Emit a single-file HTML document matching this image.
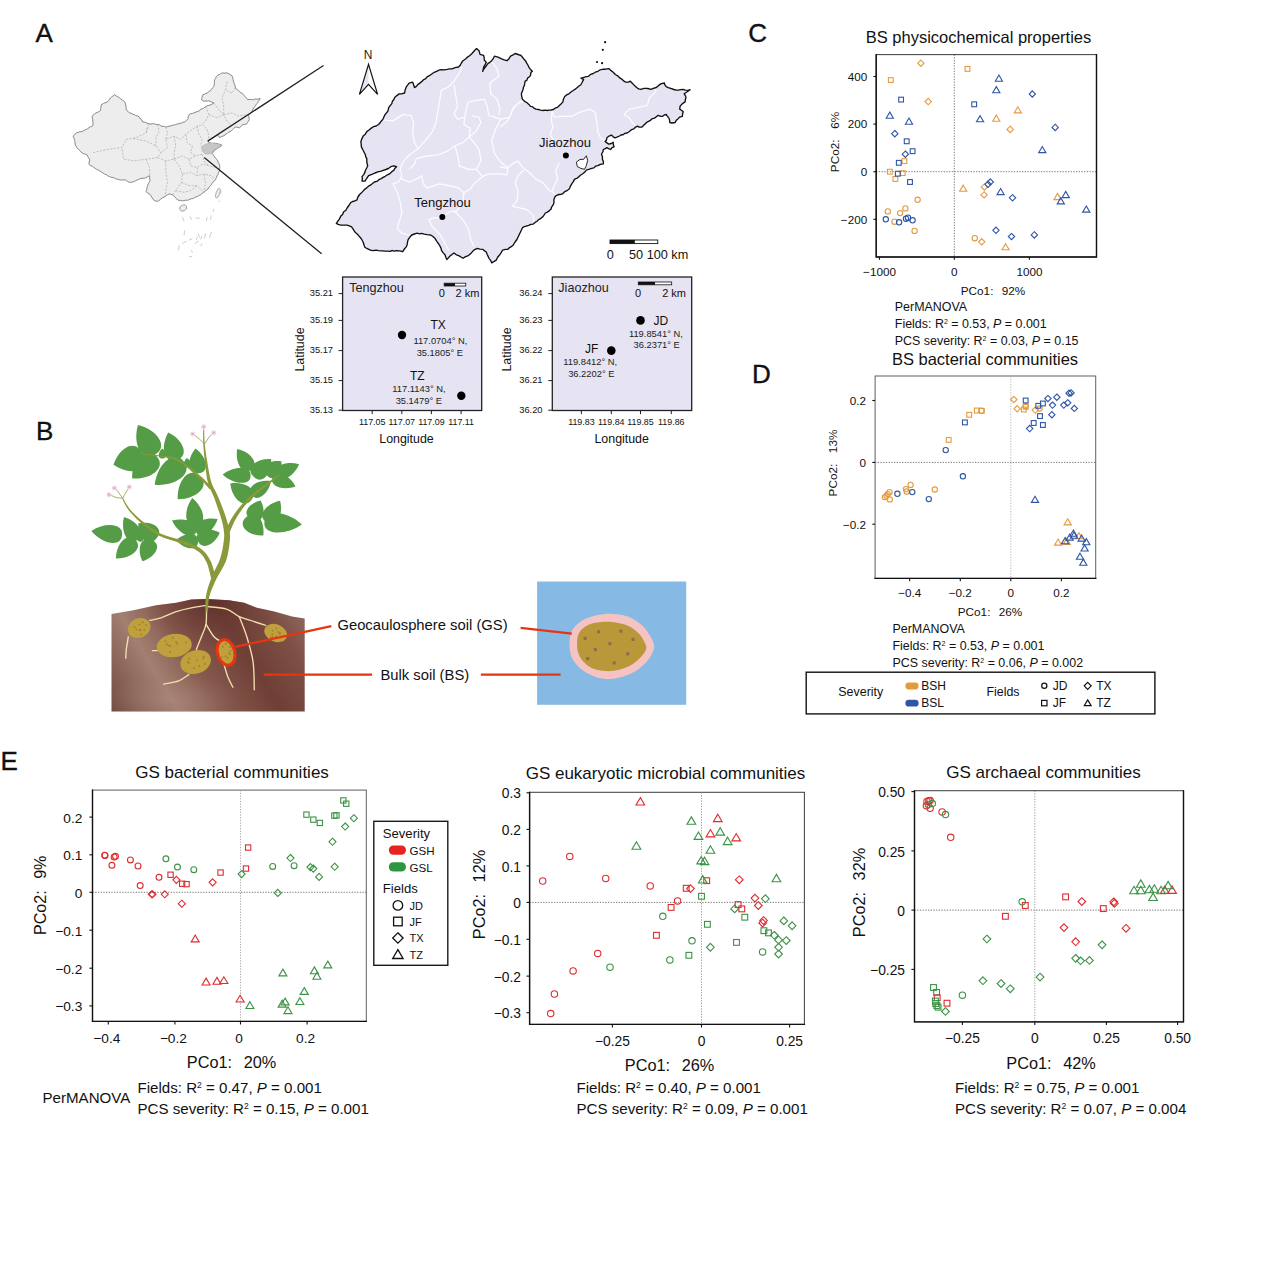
<!DOCTYPE html>
<html><head><meta charset="utf-8"><title>Figure</title>
<style>
html,body{margin:0;padding:0;background:#fff}
svg{display:block}
svg text{font-family:"Liberation Sans",sans-serif}
</style></head><body>
<svg width="1270" height="1280" viewBox="0 0 1270 1280">
<rect width="1270" height="1280" fill="#fff"/>
<text x="35.6" y="41.9" font-size="26" text-anchor="start" fill="#111" xml:space="preserve" stroke="#111" stroke-width="0.35">A</text>
<text x="36.1" y="440.4" font-size="26" text-anchor="start" fill="#111" xml:space="preserve" stroke="#111" stroke-width="0.35">B</text>
<text x="748.2" y="41.5" font-size="26" text-anchor="start" fill="#111" xml:space="preserve" stroke="#111" stroke-width="0.35">C</text>
<text x="752.0" y="383.3" font-size="26" text-anchor="start" fill="#111" xml:space="preserve" stroke="#111" stroke-width="0.35">D</text>
<text x="0.4" y="769.6" font-size="26" text-anchor="start" fill="#111" xml:space="preserve" stroke="#111" stroke-width="0.35">E</text>
<text x="978.5" y="43.0" font-size="16.5" text-anchor="middle" fill="#111" xml:space="preserve">BS physicochemical properties</text>
<rect x="876.2" y="54.6" width="220.3" height="202.4" fill="#fff" stroke="#444" stroke-width="1.05"/>
<path d="M954.3 54.6V257.0" stroke="#555" stroke-width="0.8" stroke-dasharray="1.3 1.4" fill="none"/>
<path d="M876.2 171.7H1096.5" stroke="#555" stroke-width="0.8" stroke-dasharray="1.3 1.4" fill="none"/>
<path d="M876.2 54.1V257.7M875.5 257.0H1097.2M1096.5 54.1V257.7" stroke="#111" stroke-width="1.4" fill="none"/>
<path d="M879.5 257.0v2.8" stroke="#111" stroke-width="1.1"/>
<text x="879.5" y="275.9" font-size="11.7" text-anchor="middle" fill="#111" xml:space="preserve">−1000</text>
<path d="M954.3 257.0v2.8" stroke="#111" stroke-width="1.1"/>
<text x="954.3" y="275.9" font-size="11.7" text-anchor="middle" fill="#111" xml:space="preserve">0</text>
<path d="M1029.4 257.0v2.8" stroke="#111" stroke-width="1.1"/>
<text x="1029.4" y="275.9" font-size="11.7" text-anchor="middle" fill="#111" xml:space="preserve">1000</text>
<path d="M876.2 76.5h-2.8" stroke="#111" stroke-width="1.1"/>
<text x="867.2" y="80.8" font-size="11.7" text-anchor="end" fill="#111" xml:space="preserve">400</text>
<path d="M876.2 124.1h-2.8" stroke="#111" stroke-width="1.1"/>
<text x="867.2" y="128.4" font-size="11.7" text-anchor="end" fill="#111" xml:space="preserve">200</text>
<path d="M876.2 171.7h-2.8" stroke="#111" stroke-width="1.1"/>
<text x="867.2" y="176.0" font-size="11.7" text-anchor="end" fill="#111" xml:space="preserve">0</text>
<path d="M876.2 219.3h-2.8" stroke="#111" stroke-width="1.1"/>
<text x="867.2" y="223.6" font-size="11.7" text-anchor="end" fill="#111" xml:space="preserve">−200</text>
<path d="M920.9 60.1L924.1 63.2L920.9 66.4L917.7 63.2Z" fill="none" stroke="#e59a3e" stroke-width="1.1"/>
<rect x="965.1" y="66.5" width="4.8" height="4.8" fill="none" stroke="#e59a3e" stroke-width="1.1"/>
<rect x="888.4" y="77.7" width="4.8" height="4.8" fill="none" stroke="#e59a3e" stroke-width="1.1"/>
<path d="M928.2 98.4L931.4 101.6L928.2 104.8L925.0 101.6Z" fill="none" stroke="#e59a3e" stroke-width="1.1"/>
<path d="M1017.8 106.8L1021.4 112.9L1014.2 112.9Z" fill="none" stroke="#e59a3e" stroke-width="1.1" stroke-linejoin="miter"/>
<path d="M996.3 115.0L999.9 121.2L992.7 121.2Z" fill="none" stroke="#e59a3e" stroke-width="1.1" stroke-linejoin="miter"/>
<path d="M1010.2 126.2L1013.4 129.4L1010.2 132.6L1007.0 129.4Z" fill="none" stroke="#e59a3e" stroke-width="1.1"/>
<rect x="902.0" y="158.7" width="4.8" height="4.8" fill="none" stroke="#e59a3e" stroke-width="1.1"/>
<rect x="887.4" y="169.3" width="4.8" height="4.8" fill="none" stroke="#e59a3e" stroke-width="1.1"/>
<rect x="900.3" y="170.7" width="4.8" height="4.8" fill="none" stroke="#e59a3e" stroke-width="1.1"/>
<rect x="893.0" y="176.6" width="4.8" height="4.8" fill="none" stroke="#e59a3e" stroke-width="1.1"/>
<path d="M963.2 185.2L966.8 191.3L959.6 191.3Z" fill="none" stroke="#e59a3e" stroke-width="1.1" stroke-linejoin="miter"/>
<path d="M984.4 183.7L987.6 186.9L984.4 190.1L981.2 186.9Z" fill="none" stroke="#e59a3e" stroke-width="1.1"/>
<path d="M984.1 191.7L987.2 194.9L984.1 198.0L980.9 194.9Z" fill="none" stroke="#e59a3e" stroke-width="1.1"/>
<path d="M1057.5 193.4L1061.1 199.6L1053.9 199.6Z" fill="none" stroke="#e59a3e" stroke-width="1.1" stroke-linejoin="miter"/>
<circle cx="917.6" cy="199.8" r="2.65" fill="none" stroke="#e59a3e" stroke-width="1.1"/>
<circle cx="905.4" cy="208.4" r="2.65" fill="none" stroke="#e59a3e" stroke-width="1.1"/>
<circle cx="887.8" cy="211.4" r="2.65" fill="none" stroke="#e59a3e" stroke-width="1.1"/>
<circle cx="900.1" cy="213.1" r="2.65" fill="none" stroke="#e59a3e" stroke-width="1.1"/>
<circle cx="894.4" cy="221.7" r="2.65" fill="none" stroke="#e59a3e" stroke-width="1.1"/>
<circle cx="914.6" cy="230.9" r="2.65" fill="none" stroke="#e59a3e" stroke-width="1.1"/>
<circle cx="974.8" cy="238.2" r="2.65" fill="none" stroke="#e59a3e" stroke-width="1.1"/>
<path d="M981.7 238.6L984.9 241.8L981.7 245.0L978.6 241.8Z" fill="none" stroke="#e59a3e" stroke-width="1.1"/>
<path d="M1005.6 243.7L1009.2 249.8L1002.0 249.8Z" fill="none" stroke="#e59a3e" stroke-width="1.1" stroke-linejoin="miter"/>
<path d="M998.9 75.0L1002.5 81.2L995.3 81.2Z" fill="none" stroke="#2f55a4" stroke-width="1.1" stroke-linejoin="miter"/>
<path d="M996.3 86.6L999.9 92.7L992.7 92.7Z" fill="none" stroke="#2f55a4" stroke-width="1.1" stroke-linejoin="miter"/>
<path d="M1032.3 90.8L1035.5 94.0L1032.3 97.2L1029.2 94.0Z" fill="none" stroke="#2f55a4" stroke-width="1.1"/>
<rect x="898.7" y="97.2" width="4.8" height="4.8" fill="none" stroke="#2f55a4" stroke-width="1.1"/>
<rect x="971.8" y="101.9" width="4.8" height="4.8" fill="none" stroke="#2f55a4" stroke-width="1.1"/>
<path d="M889.8 112.1L893.4 118.2L886.2 118.2Z" fill="none" stroke="#2f55a4" stroke-width="1.1" stroke-linejoin="miter"/>
<path d="M980.1 115.7L983.7 121.8L976.5 121.8Z" fill="none" stroke="#2f55a4" stroke-width="1.1" stroke-linejoin="miter"/>
<path d="M909.0 118.0L912.6 124.2L905.4 124.2Z" fill="none" stroke="#2f55a4" stroke-width="1.1" stroke-linejoin="miter"/>
<path d="M1055.2 124.2L1058.3 127.4L1055.2 130.6L1052.0 127.4Z" fill="none" stroke="#2f55a4" stroke-width="1.1"/>
<path d="M894.8 130.5L898.0 133.7L894.8 136.9L891.6 133.7Z" fill="none" stroke="#2f55a4" stroke-width="1.1"/>
<rect x="904.3" y="138.9" width="4.8" height="4.8" fill="none" stroke="#2f55a4" stroke-width="1.1"/>
<path d="M1042.3 146.5L1045.9 152.6L1038.7 152.6Z" fill="none" stroke="#2f55a4" stroke-width="1.1" stroke-linejoin="miter"/>
<rect x="910.2" y="148.8" width="4.8" height="4.8" fill="none" stroke="#2f55a4" stroke-width="1.1"/>
<path d="M905.4 151.0L908.5 154.2L905.4 157.4L902.2 154.2Z" fill="none" stroke="#2f55a4" stroke-width="1.1"/>
<rect x="896.4" y="160.4" width="4.8" height="4.8" fill="none" stroke="#2f55a4" stroke-width="1.1"/>
<rect x="895.4" y="171.3" width="4.8" height="4.8" fill="none" stroke="#2f55a4" stroke-width="1.1"/>
<rect x="907.6" y="179.6" width="4.8" height="4.8" fill="none" stroke="#2f55a4" stroke-width="1.1"/>
<path d="M990.3 178.8L993.5 182.0L990.3 185.1L987.2 182.0Z" fill="none" stroke="#2f55a4" stroke-width="1.1"/>
<path d="M988.0 181.1L991.2 184.3L988.0 187.5L984.9 184.3Z" fill="none" stroke="#2f55a4" stroke-width="1.1"/>
<path d="M1000.6 188.5L1004.2 194.6L997.0 194.6Z" fill="none" stroke="#2f55a4" stroke-width="1.1" stroke-linejoin="miter"/>
<path d="M1012.5 194.7L1015.7 197.8L1012.5 201.0L1009.3 197.8Z" fill="none" stroke="#2f55a4" stroke-width="1.1"/>
<path d="M1065.7 191.4L1069.4 197.6L1062.1 197.6Z" fill="none" stroke="#2f55a4" stroke-width="1.1" stroke-linejoin="miter"/>
<path d="M1060.8 197.7L1064.4 203.9L1057.2 203.9Z" fill="none" stroke="#2f55a4" stroke-width="1.1" stroke-linejoin="miter"/>
<path d="M1086.3 206.0L1089.9 212.1L1082.6 212.1Z" fill="none" stroke="#2f55a4" stroke-width="1.1" stroke-linejoin="miter"/>
<circle cx="885.8" cy="219.3" r="2.65" fill="none" stroke="#2f55a4" stroke-width="1.1"/>
<circle cx="899.1" cy="222.3" r="2.65" fill="none" stroke="#2f55a4" stroke-width="1.1"/>
<circle cx="906.0" cy="218.7" r="2.65" fill="none" stroke="#2f55a4" stroke-width="1.1"/>
<circle cx="908.0" cy="217.7" r="2.65" fill="none" stroke="#2f55a4" stroke-width="1.1"/>
<circle cx="912.6" cy="220.3" r="2.65" fill="none" stroke="#2f55a4" stroke-width="1.1"/>
<path d="M996.0 227.1L999.1 230.3L996.0 233.4L992.8 230.3Z" fill="none" stroke="#2f55a4" stroke-width="1.1"/>
<path d="M1011.5 233.4L1014.7 236.5L1011.5 239.7L1008.3 236.5Z" fill="none" stroke="#2f55a4" stroke-width="1.1"/>
<path d="M1034.3 231.7L1037.5 234.9L1034.3 238.1L1031.2 234.9Z" fill="none" stroke="#2f55a4" stroke-width="1.1"/>
<text x="993.0" y="294.5" font-size="11.75" text-anchor="middle" fill="#111" xml:space="preserve">PCo1:<tspan dx="8.3">92%</tspan></text>
<text x="839.0" y="142.0" font-size="11.75" text-anchor="middle" fill="#111" xml:space="preserve" transform="rotate(-90 839 142)">PCo2:<tspan dx="10.6">6%</tspan></text>
<text x="894.8" y="311.0" font-size="12.45" text-anchor="start" fill="#111" xml:space="preserve">PerMANOVA</text>
<text x="894.8" y="327.5" font-size="12.45" text-anchor="start" fill="#111" xml:space="preserve">Fields: R<tspan font-size="7" dy="-4">2</tspan><tspan dy="4"> = 0.53, </tspan><tspan font-style="italic">P</tspan> = 0.001</text>
<text x="894.8" y="345.0" font-size="12.45" text-anchor="start" fill="#111" xml:space="preserve">PCS severity: R<tspan font-size="7" dy="-4">2</tspan><tspan dy="4"> = 0.03, </tspan><tspan font-style="italic">P</tspan> = 0.15</text>
<text x="985.0" y="364.5" font-size="16.5" text-anchor="middle" fill="#111" xml:space="preserve">BS bacterial communities</text>
<rect x="875.1" y="376" width="220.6" height="202.4" fill="#fff" stroke="#666" stroke-width="1.05"/>
<path d="M1010.8 376V578.4" stroke="#aaa" stroke-width="0.8" stroke-dasharray="1.3 1.4" fill="none"/>
<path d="M875.1 462.4H1095.7" stroke="#555" stroke-width="0.8" stroke-dasharray="1.3 1.4" fill="none"/>
<path d="M874.4 578.4H1096.4" stroke="#111" stroke-width="1.4" fill="none"/>
<path d="M909.7 578.4v2.8" stroke="#111" stroke-width="1.1"/>
<text x="909.7" y="597.3" font-size="11.7" text-anchor="middle" fill="#111" xml:space="preserve">−0.4</text>
<path d="M960.3 578.4v2.8" stroke="#111" stroke-width="1.1"/>
<text x="960.3" y="597.3" font-size="11.7" text-anchor="middle" fill="#111" xml:space="preserve">−0.2</text>
<path d="M1010.8 578.4v2.8" stroke="#111" stroke-width="1.1"/>
<text x="1010.8" y="597.3" font-size="11.7" text-anchor="middle" fill="#111" xml:space="preserve">0</text>
<path d="M1061.4 578.4v2.8" stroke="#111" stroke-width="1.1"/>
<text x="1061.4" y="597.3" font-size="11.7" text-anchor="middle" fill="#111" xml:space="preserve">0.2</text>
<path d="M875.1 400.5h-2.8" stroke="#111" stroke-width="1.1"/>
<text x="866.1" y="404.8" font-size="11.7" text-anchor="end" fill="#111" xml:space="preserve">0.2</text>
<path d="M875.1 462.4h-2.8" stroke="#111" stroke-width="1.1"/>
<text x="866.1" y="466.7" font-size="11.7" text-anchor="end" fill="#111" xml:space="preserve">0</text>
<path d="M875.1 524.2h-2.8" stroke="#111" stroke-width="1.1"/>
<text x="866.1" y="528.5" font-size="11.7" text-anchor="end" fill="#111" xml:space="preserve">−0.2</text>
<path d="M1013.8 396.3L1017.0 399.5L1013.8 402.7L1010.6 399.5Z" fill="none" stroke="#e59a3e" stroke-width="1.1"/>
<path d="M1017.1 405.6L1020.3 408.8L1017.1 412.0L1014.0 408.8Z" fill="none" stroke="#e59a3e" stroke-width="1.1"/>
<rect x="1021.4" y="407.1" width="4.8" height="4.8" fill="none" stroke="#e59a3e" stroke-width="1.1"/>
<rect x="1023.3" y="404.4" width="4.8" height="4.8" fill="none" stroke="#e59a3e" stroke-width="1.1"/>
<circle cx="1025.7" cy="406.1" r="2.65" fill="none" stroke="#e59a3e" stroke-width="1.1"/>
<path d="M1035.3 406.9L1038.5 410.1L1035.3 413.3L1032.1 410.1Z" fill="none" stroke="#e59a3e" stroke-width="1.1"/>
<circle cx="1039.6" cy="408.5" r="2.65" fill="none" stroke="#e59a3e" stroke-width="1.1"/>
<rect x="966.8" y="412.4" width="4.8" height="4.8" fill="none" stroke="#e59a3e" stroke-width="1.1"/>
<rect x="974.4" y="408.1" width="4.8" height="4.8" fill="none" stroke="#e59a3e" stroke-width="1.1"/>
<circle cx="981.4" cy="410.8" r="2.65" fill="none" stroke="#e59a3e" stroke-width="1.1"/>
<rect x="979.4" y="408.4" width="4.8" height="4.8" fill="none" stroke="#e59a3e" stroke-width="1.1"/>
<rect x="946.3" y="437.5" width="4.8" height="4.8" fill="none" stroke="#e59a3e" stroke-width="1.1"/>
<circle cx="910.6" cy="484.9" r="2.65" fill="none" stroke="#e59a3e" stroke-width="1.1"/>
<circle cx="906.0" cy="489.1" r="2.65" fill="none" stroke="#e59a3e" stroke-width="1.1"/>
<circle cx="906.7" cy="491.5" r="2.65" fill="none" stroke="#e59a3e" stroke-width="1.1"/>
<circle cx="889.5" cy="492.1" r="2.65" fill="none" stroke="#e59a3e" stroke-width="1.1"/>
<circle cx="887.8" cy="494.1" r="2.65" fill="none" stroke="#e59a3e" stroke-width="1.1"/>
<circle cx="886.5" cy="495.8" r="2.65" fill="none" stroke="#e59a3e" stroke-width="1.1"/>
<circle cx="884.9" cy="497.1" r="2.65" fill="none" stroke="#e59a3e" stroke-width="1.1"/>
<circle cx="889.8" cy="499.4" r="2.65" fill="none" stroke="#e59a3e" stroke-width="1.1"/>
<circle cx="934.8" cy="489.5" r="2.65" fill="none" stroke="#e59a3e" stroke-width="1.1"/>
<path d="M1067.7 518.8L1071.3 524.9L1064.1 524.9Z" fill="none" stroke="#e59a3e" stroke-width="1.1" stroke-linejoin="miter"/>
<path d="M1058.1 539.0L1061.7 545.1L1054.5 545.1Z" fill="none" stroke="#e59a3e" stroke-width="1.1" stroke-linejoin="miter"/>
<path d="M1066.7 538.3L1070.3 544.4L1063.1 544.4Z" fill="none" stroke="#e59a3e" stroke-width="1.1" stroke-linejoin="miter"/>
<path d="M1079.0 532.7L1082.6 538.8L1075.4 538.8Z" fill="none" stroke="#e59a3e" stroke-width="1.1" stroke-linejoin="miter"/>
<rect x="1023.3" y="398.1" width="4.8" height="4.8" fill="none" stroke="#2f55a4" stroke-width="1.1"/>
<rect x="1035.9" y="403.4" width="4.8" height="4.8" fill="none" stroke="#2f55a4" stroke-width="1.1"/>
<rect x="1040.5" y="401.1" width="4.8" height="4.8" fill="none" stroke="#2f55a4" stroke-width="1.1"/>
<path d="M1047.9 395.4L1051.1 398.5L1047.9 401.7L1044.7 398.5Z" fill="none" stroke="#2f55a4" stroke-width="1.1"/>
<path d="M1056.8 394.0L1060.0 397.2L1056.8 400.4L1053.6 397.2Z" fill="none" stroke="#2f55a4" stroke-width="1.1"/>
<path d="M1052.5 402.0L1055.7 405.1L1052.5 408.3L1049.3 405.1Z" fill="none" stroke="#2f55a4" stroke-width="1.1"/>
<path d="M1063.8 402.0L1066.9 405.1L1063.8 408.3L1060.6 405.1Z" fill="none" stroke="#2f55a4" stroke-width="1.1"/>
<path d="M1067.7 399.7L1070.9 402.8L1067.7 406.0L1064.6 402.8Z" fill="none" stroke="#2f55a4" stroke-width="1.1"/>
<path d="M1069.1 390.1L1072.2 393.2L1069.1 396.4L1065.9 393.2Z" fill="none" stroke="#2f55a4" stroke-width="1.1"/>
<path d="M1071.0 389.7L1074.2 392.9L1071.0 396.1L1067.9 392.9Z" fill="none" stroke="#2f55a4" stroke-width="1.1"/>
<path d="M1074.3 405.3L1077.5 408.5L1074.3 411.6L1071.2 408.5Z" fill="none" stroke="#2f55a4" stroke-width="1.1"/>
<path d="M1051.9 411.6L1055.0 414.7L1051.9 417.9L1048.7 414.7Z" fill="none" stroke="#2f55a4" stroke-width="1.1"/>
<rect x="1037.6" y="413.7" width="4.8" height="4.8" fill="none" stroke="#2f55a4" stroke-width="1.1"/>
<rect x="1031.3" y="420.6" width="4.8" height="4.8" fill="none" stroke="#2f55a4" stroke-width="1.1"/>
<rect x="1040.5" y="422.6" width="4.8" height="4.8" fill="none" stroke="#2f55a4" stroke-width="1.1"/>
<path d="M1029.7 425.4L1032.9 428.6L1029.7 431.8L1026.5 428.6Z" fill="none" stroke="#2f55a4" stroke-width="1.1"/>
<rect x="962.5" y="420.0" width="4.8" height="4.8" fill="none" stroke="#2f55a4" stroke-width="1.1"/>
<circle cx="945.7" cy="450.1" r="2.65" fill="none" stroke="#2f55a4" stroke-width="1.1"/>
<circle cx="962.9" cy="476.3" r="2.65" fill="none" stroke="#2f55a4" stroke-width="1.1"/>
<circle cx="897.4" cy="493.8" r="2.65" fill="none" stroke="#2f55a4" stroke-width="1.1"/>
<circle cx="912.3" cy="492.1" r="2.65" fill="none" stroke="#2f55a4" stroke-width="1.1"/>
<circle cx="928.8" cy="499.1" r="2.65" fill="none" stroke="#2f55a4" stroke-width="1.1"/>
<path d="M1035.0 496.3L1038.6 502.4L1031.4 502.4Z" fill="none" stroke="#2f55a4" stroke-width="1.1" stroke-linejoin="miter"/>
<path d="M1065.1 537.6L1068.7 543.8L1061.5 543.8Z" fill="none" stroke="#2f55a4" stroke-width="1.1" stroke-linejoin="miter"/>
<path d="M1069.7 534.0L1073.3 540.1L1066.1 540.1Z" fill="none" stroke="#2f55a4" stroke-width="1.1" stroke-linejoin="miter"/>
<path d="M1073.4 530.0L1077.0 536.2L1069.8 536.2Z" fill="none" stroke="#2f55a4" stroke-width="1.1" stroke-linejoin="miter"/>
<path d="M1074.0 532.0L1077.6 538.2L1070.4 538.2Z" fill="none" stroke="#2f55a4" stroke-width="1.1" stroke-linejoin="miter"/>
<path d="M1081.6 535.0L1085.2 541.1L1078.0 541.1Z" fill="none" stroke="#2f55a4" stroke-width="1.1" stroke-linejoin="miter"/>
<path d="M1086.3 538.6L1089.9 544.8L1082.6 544.8Z" fill="none" stroke="#2f55a4" stroke-width="1.1" stroke-linejoin="miter"/>
<path d="M1084.6 544.9L1088.2 551.0L1081.0 551.0Z" fill="none" stroke="#2f55a4" stroke-width="1.1" stroke-linejoin="miter"/>
<path d="M1080.0 553.2L1083.6 559.3L1076.4 559.3Z" fill="none" stroke="#2f55a4" stroke-width="1.1" stroke-linejoin="miter"/>
<path d="M1083.3 559.1L1086.9 565.3L1079.7 565.3Z" fill="none" stroke="#2f55a4" stroke-width="1.1" stroke-linejoin="miter"/>
<text x="990.0" y="616.0" font-size="11.75" text-anchor="middle" fill="#111" xml:space="preserve">PCo1:<tspan dx="8.3">26%</tspan></text>
<text x="837.0" y="463.0" font-size="11.75" text-anchor="middle" fill="#111" xml:space="preserve" transform="rotate(-90 837 463)">PCo2:<tspan dx="10.6">13%</tspan></text>
<text x="892.5" y="633.0" font-size="12.45" text-anchor="start" fill="#111" xml:space="preserve">PerMANOVA</text>
<text x="892.5" y="650.0" font-size="12.45" text-anchor="start" fill="#111" xml:space="preserve">Fields: R<tspan font-size="7" dy="-4">2</tspan><tspan dy="4"> = 0.53, </tspan><tspan font-style="italic">P</tspan> = 0.001</text>
<text x="892.5" y="667.0" font-size="12.45" text-anchor="start" fill="#111" xml:space="preserve">PCS severity: R<tspan font-size="7" dy="-4">2</tspan><tspan dy="4"> = 0.06, </tspan><tspan font-style="italic">P</tspan> = 0.002</text>
<rect x="806.2" y="672.2" width="348.7" height="41.7" fill="#fff" stroke="#111" stroke-width="1.4"/>
<text x="838.3" y="696.3" font-size="12.45" text-anchor="start" fill="#111" xml:space="preserve">Severity</text>
<text x="986.5" y="696.3" font-size="12.4" text-anchor="start" fill="#111" xml:space="preserve">Fields</text>
<rect x="905.4" y="682.6" width="13.2" height="6.8" rx="3.4" fill="#e59a3e"/>
<rect x="905.4" y="699.8" width="13.2" height="6.8" rx="3.4" fill="#2f55a4"/>
<text x="921.3" y="689.8" font-size="12" text-anchor="start" fill="#111" xml:space="preserve">BSH</text>
<text x="921.3" y="706.8" font-size="12" text-anchor="start" fill="#111" xml:space="preserve">BSL</text>
<circle cx="1044.3" cy="685.8" r="2.60" fill="none" stroke="#111" stroke-width="1.2"/>
<text x="1052.8" y="689.8" font-size="12" text-anchor="start" fill="#111" xml:space="preserve">JD</text>
<rect x="1041.6" y="700.4" width="5.4" height="5.4" fill="none" stroke="#111" stroke-width="1.2"/>
<text x="1052.8" y="706.8" font-size="12" text-anchor="start" fill="#111" xml:space="preserve">JF</text>
<path d="M1087.7 682.3L1091.2 685.8L1087.7 689.3L1084.2 685.8Z" fill="none" stroke="#111" stroke-width="1.2"/>
<text x="1096.2" y="689.8" font-size="12" text-anchor="start" fill="#111" xml:space="preserve">TX</text>
<path d="M1087.7 699.9L1091.1 705.6L1084.3 705.6Z" fill="none" stroke="#111" stroke-width="1.2" stroke-linejoin="miter"/>
<text x="1096.2" y="706.8" font-size="12" text-anchor="start" fill="#111" xml:space="preserve">TZ</text>
<text x="232.0" y="777.5" font-size="17" text-anchor="middle" fill="#111" xml:space="preserve">GS bacterial communities</text>
<rect x="92.5" y="790.1" width="273.8" height="231.3" fill="#fff" stroke="#666" stroke-width="1.05"/>
<path d="M240.5 790.1V1021.4" stroke="#999" stroke-width="0.8" stroke-dasharray="1.3 1.4" fill="none"/>
<path d="M92.5 892.3H366.3" stroke="#555" stroke-width="0.8" stroke-dasharray="1.3 1.4" fill="none"/>
<path d="M92.5 789.6V1022.1M91.8 1021.4H367.0" stroke="#111" stroke-width="1.4" fill="none"/>
<path d="M108.3 1021.4v3.1" stroke="#111" stroke-width="1.1"/>
<text x="106.8" y="1042.7" font-size="13.7" text-anchor="middle" fill="#111" xml:space="preserve">−0.4</text>
<path d="M174.9 1021.4v3.1" stroke="#111" stroke-width="1.1"/>
<text x="173.4" y="1042.7" font-size="13.7" text-anchor="middle" fill="#111" xml:space="preserve">−0.2</text>
<path d="M240.5 1021.4v3.1" stroke="#111" stroke-width="1.1"/>
<text x="239.0" y="1042.7" font-size="13.7" text-anchor="middle" fill="#111" xml:space="preserve">0</text>
<path d="M307.1 1021.4v3.1" stroke="#111" stroke-width="1.1"/>
<text x="305.6" y="1042.7" font-size="13.7" text-anchor="middle" fill="#111" xml:space="preserve">0.2</text>
<path d="M92.5 817.1h-3.1" stroke="#111" stroke-width="1.1"/>
<text x="82.3" y="822.5" font-size="13.7" text-anchor="end" fill="#111" xml:space="preserve">0.2</text>
<path d="M92.5 854.8h-3.1" stroke="#111" stroke-width="1.1"/>
<text x="82.3" y="860.2" font-size="13.7" text-anchor="end" fill="#111" xml:space="preserve">0.1</text>
<path d="M92.5 892.3h-3.1" stroke="#111" stroke-width="1.1"/>
<text x="82.3" y="897.7" font-size="13.7" text-anchor="end" fill="#111" xml:space="preserve">0</text>
<path d="M92.5 930.2h-3.1" stroke="#111" stroke-width="1.1"/>
<text x="82.3" y="935.6" font-size="13.7" text-anchor="end" fill="#111" xml:space="preserve">−0.1</text>
<path d="M92.5 968.2h-3.1" stroke="#111" stroke-width="1.1"/>
<text x="82.3" y="973.6" font-size="13.7" text-anchor="end" fill="#111" xml:space="preserve">−0.2</text>
<path d="M92.5 1005.9h-3.1" stroke="#111" stroke-width="1.1"/>
<text x="82.3" y="1011.3" font-size="13.7" text-anchor="end" fill="#111" xml:space="preserve">−0.3</text>
<circle cx="104.7" cy="855.2" r="2.95" fill="none" stroke="#de2b30" stroke-width="1.1"/>
<circle cx="105.0" cy="855.5" r="2.95" fill="none" stroke="#de2b30" stroke-width="1.1"/>
<circle cx="114.1" cy="857.0" r="2.95" fill="none" stroke="#de2b30" stroke-width="1.1"/>
<circle cx="115.5" cy="856.3" r="2.95" fill="none" stroke="#de2b30" stroke-width="1.1"/>
<circle cx="111.9" cy="865.3" r="2.95" fill="none" stroke="#de2b30" stroke-width="1.1"/>
<circle cx="130.4" cy="859.9" r="2.95" fill="none" stroke="#de2b30" stroke-width="1.1"/>
<circle cx="138.0" cy="866.0" r="2.95" fill="none" stroke="#de2b30" stroke-width="1.1"/>
<circle cx="159.0" cy="877.3" r="2.95" fill="none" stroke="#de2b30" stroke-width="1.1"/>
<circle cx="140.2" cy="885.6" r="2.95" fill="none" stroke="#de2b30" stroke-width="1.1"/>
<rect x="167.9" y="872.1" width="5.3" height="5.3" fill="none" stroke="#de2b30" stroke-width="1.1"/>
<rect x="179.5" y="881.1" width="5.3" height="5.3" fill="none" stroke="#de2b30" stroke-width="1.1"/>
<rect x="183.9" y="881.5" width="5.3" height="5.3" fill="none" stroke="#de2b30" stroke-width="1.1"/>
<path d="M176.4 876.3L179.9 879.8L176.4 883.4L172.9 879.8Z" fill="none" stroke="#de2b30" stroke-width="1.1"/>
<path d="M151.8 890.8L155.3 894.3L151.8 897.8L148.2 894.3Z" fill="none" stroke="#de2b30" stroke-width="1.1"/>
<path d="M152.5 890.8L156.0 894.3L152.5 897.8L148.9 894.3Z" fill="none" stroke="#de2b30" stroke-width="1.1"/>
<path d="M164.8 890.8L168.3 894.3L164.8 897.8L161.3 894.3Z" fill="none" stroke="#de2b30" stroke-width="1.1"/>
<path d="M181.8 900.2L185.4 903.7L181.8 907.3L178.3 903.7Z" fill="none" stroke="#de2b30" stroke-width="1.1"/>
<path d="M212.6 878.8L216.2 882.3L212.6 885.9L209.1 882.3Z" fill="none" stroke="#de2b30" stroke-width="1.1"/>
<rect x="217.9" y="869.9" width="5.3" height="5.3" fill="none" stroke="#de2b30" stroke-width="1.1"/>
<rect x="243.3" y="865.9" width="5.3" height="5.3" fill="none" stroke="#de2b30" stroke-width="1.1"/>
<rect x="245.5" y="844.9" width="5.3" height="5.3" fill="none" stroke="#de2b30" stroke-width="1.1"/>
<path d="M195.2 935.0L199.2 941.9L191.2 941.9Z" fill="none" stroke="#de2b30" stroke-width="1.1" stroke-linejoin="miter"/>
<path d="M206.1 978.1L210.1 985.0L202.1 985.0Z" fill="none" stroke="#de2b30" stroke-width="1.1" stroke-linejoin="miter"/>
<path d="M217.0 977.4L221.0 984.2L212.9 984.2Z" fill="none" stroke="#de2b30" stroke-width="1.1" stroke-linejoin="miter"/>
<path d="M223.8 976.7L227.9 983.5L219.8 983.5Z" fill="none" stroke="#de2b30" stroke-width="1.1" stroke-linejoin="miter"/>
<path d="M240.1 995.2L244.2 1002.0L236.1 1002.0Z" fill="none" stroke="#de2b30" stroke-width="1.1" stroke-linejoin="miter"/>
<circle cx="165.9" cy="858.8" r="2.95" fill="none" stroke="#3c9245" stroke-width="1.1"/>
<circle cx="177.5" cy="867.1" r="2.95" fill="none" stroke="#3c9245" stroke-width="1.1"/>
<circle cx="193.8" cy="869.7" r="2.95" fill="none" stroke="#3c9245" stroke-width="1.1"/>
<path d="M241.6 870.5L245.1 874.0L241.6 877.6L238.1 874.0Z" fill="none" stroke="#3c9245" stroke-width="1.1"/>
<circle cx="272.7" cy="866.4" r="2.95" fill="none" stroke="#3c9245" stroke-width="1.1"/>
<path d="M290.5 854.5L294.0 858.1L290.5 861.6L286.9 858.1Z" fill="none" stroke="#3c9245" stroke-width="1.1"/>
<circle cx="294.1" cy="865.7" r="2.95" fill="none" stroke="#3c9245" stroke-width="1.1"/>
<path d="M277.8 889.3L281.4 892.9L277.8 896.4L274.3 892.9Z" fill="none" stroke="#3c9245" stroke-width="1.1"/>
<path d="M310.4 863.6L313.9 867.1L310.4 870.7L306.9 867.1Z" fill="none" stroke="#3c9245" stroke-width="1.1"/>
<path d="M313.3 865.0L316.8 868.6L313.3 872.1L309.8 868.6Z" fill="none" stroke="#3c9245" stroke-width="1.1"/>
<path d="M319.1 873.4L322.6 876.9L319.1 880.5L315.6 876.9Z" fill="none" stroke="#3c9245" stroke-width="1.1"/>
<path d="M334.7 863.2L338.2 866.8L334.7 870.3L331.1 866.8Z" fill="none" stroke="#3c9245" stroke-width="1.1"/>
<path d="M332.5 838.2L336.0 841.8L332.5 845.3L329.0 841.8Z" fill="none" stroke="#3c9245" stroke-width="1.1"/>
<path d="M345.2 823.0L348.7 826.6L345.2 830.1L341.6 826.6Z" fill="none" stroke="#3c9245" stroke-width="1.1"/>
<path d="M353.9 814.7L357.4 818.2L353.9 821.8L350.3 818.2Z" fill="none" stroke="#3c9245" stroke-width="1.1"/>
<rect x="303.8" y="812.0" width="5.3" height="5.3" fill="none" stroke="#3c9245" stroke-width="1.1"/>
<rect x="310.7" y="817.0" width="5.3" height="5.3" fill="none" stroke="#3c9245" stroke-width="1.1"/>
<rect x="317.2" y="820.3" width="5.3" height="5.3" fill="none" stroke="#3c9245" stroke-width="1.1"/>
<rect x="331.7" y="813.0" width="5.3" height="5.3" fill="none" stroke="#3c9245" stroke-width="1.1"/>
<rect x="333.8" y="812.7" width="5.3" height="5.3" fill="none" stroke="#3c9245" stroke-width="1.1"/>
<rect x="340.7" y="797.8" width="5.3" height="5.3" fill="none" stroke="#3c9245" stroke-width="1.1"/>
<rect x="343.6" y="801.1" width="5.3" height="5.3" fill="none" stroke="#3c9245" stroke-width="1.1"/>
<path d="M282.9 969.1L286.9 975.9L278.9 975.9Z" fill="none" stroke="#3c9245" stroke-width="1.1" stroke-linejoin="miter"/>
<path d="M314.4 966.9L318.4 973.7L310.4 973.7Z" fill="none" stroke="#3c9245" stroke-width="1.1" stroke-linejoin="miter"/>
<path d="M316.9 972.3L320.9 979.2L312.9 979.2Z" fill="none" stroke="#3c9245" stroke-width="1.1" stroke-linejoin="miter"/>
<path d="M327.8 961.1L331.8 967.9L323.8 967.9Z" fill="none" stroke="#3c9245" stroke-width="1.1" stroke-linejoin="miter"/>
<path d="M304.3 987.6L308.3 994.4L300.2 994.4Z" fill="none" stroke="#3c9245" stroke-width="1.1" stroke-linejoin="miter"/>
<path d="M299.9 997.7L303.9 1004.5L295.9 1004.5Z" fill="none" stroke="#3c9245" stroke-width="1.1" stroke-linejoin="miter"/>
<path d="M282.2 1000.2L286.2 1007.1L278.1 1007.1Z" fill="none" stroke="#3c9245" stroke-width="1.1" stroke-linejoin="miter"/>
<path d="M285.1 998.1L289.1 1004.9L281.0 1004.9Z" fill="none" stroke="#3c9245" stroke-width="1.1" stroke-linejoin="miter"/>
<path d="M288.0 1006.8L292.0 1013.6L283.9 1013.6Z" fill="none" stroke="#3c9245" stroke-width="1.1" stroke-linejoin="miter"/>
<path d="M249.9 1001.7L253.9 1008.5L245.9 1008.5Z" fill="none" stroke="#3c9245" stroke-width="1.1" stroke-linejoin="miter"/>
<text x="231.5" y="1068.0" font-size="16.3" text-anchor="middle" fill="#111" xml:space="preserve">PCo1:<tspan dx="11.6">20%</tspan></text>
<text x="46.4" y="895.3" font-size="16.1" text-anchor="middle" fill="#111" xml:space="preserve" transform="rotate(-90 46.4 895.3)">PCo2:<tspan dx="11.4">9%</tspan></text>
<text x="42.5" y="1102.5" font-size="15.1" text-anchor="start" fill="#111" xml:space="preserve">PerMANOVA</text>
<text x="137.5" y="1092.5" font-size="15.1" text-anchor="start" fill="#111" xml:space="preserve">Fields: R<tspan font-size="8.5" dy="-5">2</tspan><tspan dy="5"> = 0.47, </tspan><tspan font-style="italic">P</tspan> = 0.001</text>
<text x="137.5" y="1113.5" font-size="15.1" text-anchor="start" fill="#111" xml:space="preserve">PCS severity: R<tspan font-size="8.5" dy="-5">2</tspan><tspan dy="5"> = 0.15, </tspan><tspan font-style="italic">P</tspan> = 0.001</text>
<rect x="373.8" y="821.3" width="74" height="144" fill="#fff" stroke="#1a1a1a" stroke-width="1.4"/>
<text x="382.8" y="837.7" font-size="13.1" text-anchor="start" fill="#111" xml:space="preserve">Severity</text>
<text x="382.8" y="892.5" font-size="13.1" text-anchor="start" fill="#111" xml:space="preserve">Fields</text>
<rect x="388.8" y="845.4" width="17.2" height="9.4" rx="4.7" fill="#e6231f"/>
<rect x="388.8" y="862.2" width="17.2" height="9.4" rx="4.7" fill="#2f9640"/>
<text x="409.5" y="854.9" font-size="11.6" text-anchor="start" fill="#111" xml:space="preserve">GSH</text>
<text x="409.5" y="871.6" font-size="11.6" text-anchor="start" fill="#111" xml:space="preserve">GSL</text>
<circle cx="397.9" cy="905.4" r="4.80" fill="none" stroke="#111" stroke-width="1.3"/>
<text x="409.5" y="909.9" font-size="11" text-anchor="start" fill="#111" xml:space="preserve">JD</text>
<rect x="393.6" y="917.2" width="8.6" height="8.6" fill="none" stroke="#111" stroke-width="1.3"/>
<text x="409.5" y="925.6" font-size="11" text-anchor="start" fill="#111" xml:space="preserve">JF</text>
<path d="M397.9 932.8L403.1 938.0L397.9 943.2L392.7 938.0Z" fill="none" stroke="#111" stroke-width="1.3"/>
<text x="409.5" y="942.1" font-size="11" text-anchor="start" fill="#111" xml:space="preserve">TX</text>
<path d="M397.9 949.6L403.1 958.5L392.7 958.5Z" fill="none" stroke="#111" stroke-width="1.3" stroke-linejoin="miter"/>
<text x="409.5" y="958.5" font-size="11" text-anchor="start" fill="#111" xml:space="preserve">TZ</text>
<text x="665.5" y="779.0" font-size="17" text-anchor="middle" fill="#111" xml:space="preserve">GS eukaryotic microbial communities</text>
<rect x="529.6" y="792.3" width="274.8" height="232.1" fill="#fff" stroke="#444" stroke-width="1.05"/>
<path d="M701.5 792.3V1024.4" stroke="#888" stroke-width="0.8" stroke-dasharray="1.3 1.4" fill="none"/>
<path d="M529.6 902.4H804.4" stroke="#555" stroke-width="0.8" stroke-dasharray="1.3 1.4" fill="none"/>
<path d="M529.6 791.8V1025.1000000000001M528.9 1024.4H805.1" stroke="#111" stroke-width="1.4" fill="none"/>
<path d="M612.4 1024.4v3.1" stroke="#111" stroke-width="1.1"/>
<text x="612.4" y="1045.7" font-size="13.8" text-anchor="middle" fill="#111" xml:space="preserve">−0.25</text>
<path d="M701.5 1024.4v3.1" stroke="#111" stroke-width="1.1"/>
<text x="701.5" y="1045.7" font-size="13.8" text-anchor="middle" fill="#111" xml:space="preserve">0</text>
<path d="M789.6 1024.4v3.1" stroke="#111" stroke-width="1.1"/>
<text x="789.6" y="1045.7" font-size="13.8" text-anchor="middle" fill="#111" xml:space="preserve">0.25</text>
<path d="M529.6 792.8h-3.1" stroke="#111" stroke-width="1.1"/>
<text x="521.0" y="798.4" font-size="13.8" text-anchor="end" fill="#111" xml:space="preserve">0.3</text>
<path d="M529.6 829.4h-3.1" stroke="#111" stroke-width="1.1"/>
<text x="521.0" y="835.0" font-size="13.8" text-anchor="end" fill="#111" xml:space="preserve">0.2</text>
<path d="M529.6 865.9h-3.1" stroke="#111" stroke-width="1.1"/>
<text x="521.0" y="871.5" font-size="13.8" text-anchor="end" fill="#111" xml:space="preserve">0.1</text>
<path d="M529.6 902.4h-3.1" stroke="#111" stroke-width="1.1"/>
<text x="521.0" y="908.0" font-size="13.8" text-anchor="end" fill="#111" xml:space="preserve">0</text>
<path d="M529.6 939.3h-3.1" stroke="#111" stroke-width="1.1"/>
<text x="521.0" y="944.9" font-size="13.8" text-anchor="end" fill="#111" xml:space="preserve">−0.1</text>
<path d="M529.6 976.1h-3.1" stroke="#111" stroke-width="1.1"/>
<text x="521.0" y="981.7" font-size="13.8" text-anchor="end" fill="#111" xml:space="preserve">−0.2</text>
<path d="M529.6 1012.7h-3.1" stroke="#111" stroke-width="1.1"/>
<text x="521.0" y="1018.3" font-size="13.8" text-anchor="end" fill="#111" xml:space="preserve">−0.3</text>
<path d="M640.4 797.6L644.7 805.0L636.0 805.0Z" fill="none" stroke="#de2b30" stroke-width="1.1" stroke-linejoin="miter"/>
<path d="M717.8 814.2L722.1 821.6L713.4 821.6Z" fill="none" stroke="#de2b30" stroke-width="1.1" stroke-linejoin="miter"/>
<path d="M710.4 829.5L714.8 836.9L706.1 836.9Z" fill="none" stroke="#de2b30" stroke-width="1.1" stroke-linejoin="miter"/>
<path d="M736.2 833.5L740.6 840.9L731.9 840.9Z" fill="none" stroke="#de2b30" stroke-width="1.1" stroke-linejoin="miter"/>
<circle cx="569.8" cy="856.4" r="3.20" fill="none" stroke="#de2b30" stroke-width="1.1"/>
<circle cx="542.7" cy="881.0" r="3.20" fill="none" stroke="#de2b30" stroke-width="1.1"/>
<circle cx="605.7" cy="878.5" r="3.20" fill="none" stroke="#de2b30" stroke-width="1.1"/>
<circle cx="650.2" cy="885.9" r="3.20" fill="none" stroke="#de2b30" stroke-width="1.1"/>
<circle cx="677.6" cy="900.9" r="3.20" fill="none" stroke="#de2b30" stroke-width="1.1"/>
<rect x="683.3" y="885.4" width="5.8" height="5.8" fill="none" stroke="#de2b30" stroke-width="1.1"/>
<path d="M690.4 884.8L694.3 888.6L690.4 892.5L686.6 888.6Z" fill="none" stroke="#de2b30" stroke-width="1.1"/>
<rect x="703.8" y="877.8" width="5.8" height="5.8" fill="none" stroke="#de2b30" stroke-width="1.1"/>
<path d="M739.3 875.9L743.1 879.7L739.3 883.6L735.4 879.7Z" fill="none" stroke="#de2b30" stroke-width="1.1"/>
<rect x="668.2" y="904.5" width="5.8" height="5.8" fill="none" stroke="#de2b30" stroke-width="1.1"/>
<rect x="653.5" y="932.4" width="5.8" height="5.8" fill="none" stroke="#de2b30" stroke-width="1.1"/>
<path d="M754.9 894.3L758.8 898.1L754.9 902.0L751.1 898.1Z" fill="none" stroke="#de2b30" stroke-width="1.1"/>
<path d="M758.3 901.7L762.2 905.5L758.3 909.4L754.5 905.5Z" fill="none" stroke="#de2b30" stroke-width="1.1"/>
<rect x="735.2" y="901.7" width="5.8" height="5.8" fill="none" stroke="#de2b30" stroke-width="1.1"/>
<rect x="738.9" y="906.0" width="5.8" height="5.8" fill="none" stroke="#de2b30" stroke-width="1.1"/>
<path d="M763.5 916.7L767.4 920.6L763.5 924.4L759.7 920.6Z" fill="none" stroke="#de2b30" stroke-width="1.1"/>
<path d="M762.6 919.2L766.5 923.0L762.6 926.9L758.8 923.0Z" fill="none" stroke="#de2b30" stroke-width="1.1"/>
<circle cx="597.7" cy="953.4" r="3.20" fill="none" stroke="#de2b30" stroke-width="1.1"/>
<circle cx="573.1" cy="970.9" r="3.20" fill="none" stroke="#de2b30" stroke-width="1.1"/>
<circle cx="554.4" cy="994.0" r="3.20" fill="none" stroke="#de2b30" stroke-width="1.1"/>
<circle cx="550.7" cy="1013.6" r="3.20" fill="none" stroke="#de2b30" stroke-width="1.1"/>
<path d="M691.4 816.9L695.7 824.3L687.0 824.3Z" fill="none" stroke="#3c9245" stroke-width="1.1" stroke-linejoin="miter"/>
<path d="M698.4 832.0L702.8 839.4L694.1 839.4Z" fill="none" stroke="#3c9245" stroke-width="1.1" stroke-linejoin="miter"/>
<path d="M720.2 827.7L724.6 835.1L715.9 835.1Z" fill="none" stroke="#3c9245" stroke-width="1.1" stroke-linejoin="miter"/>
<path d="M727.6 837.2L732.0 844.6L723.3 844.6Z" fill="none" stroke="#3c9245" stroke-width="1.1" stroke-linejoin="miter"/>
<path d="M636.4 841.8L640.8 849.2L632.0 849.2Z" fill="none" stroke="#3c9245" stroke-width="1.1" stroke-linejoin="miter"/>
<path d="M710.4 845.8L714.8 853.2L706.1 853.2Z" fill="none" stroke="#3c9245" stroke-width="1.1" stroke-linejoin="miter"/>
<path d="M701.2 856.6L705.5 863.9L696.8 863.9Z" fill="none" stroke="#3c9245" stroke-width="1.1" stroke-linejoin="miter"/>
<path d="M704.6 857.2L708.9 864.6L700.2 864.6Z" fill="none" stroke="#3c9245" stroke-width="1.1" stroke-linejoin="miter"/>
<path d="M702.7 875.6L707.1 883.0L698.4 883.0Z" fill="none" stroke="#3c9245" stroke-width="1.1" stroke-linejoin="miter"/>
<path d="M776.4 874.4L780.8 881.8L772.1 881.8Z" fill="none" stroke="#3c9245" stroke-width="1.1" stroke-linejoin="miter"/>
<rect x="698.6" y="893.4" width="5.8" height="5.8" fill="none" stroke="#3c9245" stroke-width="1.1"/>
<path d="M765.4 894.9L769.2 898.8L765.4 902.6L761.5 898.8Z" fill="none" stroke="#3c9245" stroke-width="1.1"/>
<path d="M734.7 905.1L738.5 908.9L734.7 912.7L730.8 908.9Z" fill="none" stroke="#3c9245" stroke-width="1.1"/>
<circle cx="662.8" cy="916.3" r="3.20" fill="none" stroke="#3c9245" stroke-width="1.1"/>
<rect x="741.9" y="914.3" width="5.8" height="5.8" fill="none" stroke="#3c9245" stroke-width="1.1"/>
<rect x="704.5" y="921.4" width="5.8" height="5.8" fill="none" stroke="#3c9245" stroke-width="1.1"/>
<path d="M783.8 917.0L787.6 920.9L783.8 924.7L780.0 920.9Z" fill="none" stroke="#3c9245" stroke-width="1.1"/>
<path d="M792.1 921.9L795.9 925.8L792.1 929.6L788.3 925.8Z" fill="none" stroke="#3c9245" stroke-width="1.1"/>
<rect x="761.0" y="927.8" width="5.8" height="5.8" fill="none" stroke="#3c9245" stroke-width="1.1"/>
<rect x="765.6" y="930.0" width="5.8" height="5.8" fill="none" stroke="#3c9245" stroke-width="1.1"/>
<path d="M774.3 931.5L778.1 935.3L774.3 939.1L770.4 935.3Z" fill="none" stroke="#3c9245" stroke-width="1.1"/>
<path d="M778.6 936.1L782.4 939.9L778.6 943.8L774.7 939.9Z" fill="none" stroke="#3c9245" stroke-width="1.1"/>
<path d="M786.3 936.7L790.1 940.5L786.3 944.4L782.4 940.5Z" fill="none" stroke="#3c9245" stroke-width="1.1"/>
<circle cx="692.0" cy="940.8" r="3.20" fill="none" stroke="#3c9245" stroke-width="1.1"/>
<rect x="733.6" y="939.5" width="5.8" height="5.8" fill="none" stroke="#3c9245" stroke-width="1.1"/>
<path d="M710.4 943.4L714.2 947.3L710.4 951.1L706.6 947.3Z" fill="none" stroke="#3c9245" stroke-width="1.1"/>
<path d="M778.6 943.4L782.4 947.3L778.6 951.1L774.7 947.3Z" fill="none" stroke="#3c9245" stroke-width="1.1"/>
<circle cx="762.6" cy="951.9" r="3.20" fill="none" stroke="#3c9245" stroke-width="1.1"/>
<path d="M778.6 950.2L782.4 954.0L778.6 957.9L774.7 954.0Z" fill="none" stroke="#3c9245" stroke-width="1.1"/>
<rect x="686.0" y="952.4" width="5.8" height="5.8" fill="none" stroke="#3c9245" stroke-width="1.1"/>
<circle cx="669.9" cy="959.9" r="3.20" fill="none" stroke="#3c9245" stroke-width="1.1"/>
<circle cx="610.0" cy="967.2" r="3.20" fill="none" stroke="#3c9245" stroke-width="1.1"/>
<text x="669.5" y="1071.0" font-size="16.3" text-anchor="middle" fill="#111" xml:space="preserve">PCo1:<tspan dx="11.6">26%</tspan></text>
<text x="485.0" y="894.5" font-size="16.3" text-anchor="middle" fill="#111" xml:space="preserve" transform="rotate(-90 485 894.5)">PCo2:<tspan dx="11.6">12%</tspan></text>
<text x="576.5" y="1093.0" font-size="15.1" text-anchor="start" fill="#111" xml:space="preserve">Fields: R<tspan font-size="8.5" dy="-5">2</tspan><tspan dy="5"> = 0.40, </tspan><tspan font-style="italic">P</tspan> = 0.001</text>
<text x="576.5" y="1114.0" font-size="15.1" text-anchor="start" fill="#111" xml:space="preserve">PCS severity: R<tspan font-size="8.5" dy="-5">2</tspan><tspan dy="5"> = 0.09, </tspan><tspan font-style="italic">P</tspan> = 0.001</text>
<text x="1043.5" y="777.5" font-size="17" text-anchor="middle" fill="#111" xml:space="preserve">GS archaeal communities</text>
<rect x="914.5" y="790.7" width="269.0" height="231.2" fill="#fff" stroke="#444" stroke-width="1.05"/>
<path d="M1034.8 790.7V1021.9" stroke="#888" stroke-width="0.8" stroke-dasharray="1.3 1.4" fill="none"/>
<path d="M914.5 910.1H1183.5" stroke="#555" stroke-width="0.8" stroke-dasharray="1.3 1.4" fill="none"/>
<path d="M914.5 790.2V1022.6M913.8 1021.9H1184.2M1183.5 790.2V1022.6" stroke="#111" stroke-width="1.4" fill="none"/>
<path d="M962.4 1021.9v3.1" stroke="#111" stroke-width="1.1"/>
<text x="962.4" y="1043.2" font-size="13.8" text-anchor="middle" fill="#111" xml:space="preserve">−0.25</text>
<path d="M1034.8 1021.9v3.1" stroke="#111" stroke-width="1.1"/>
<text x="1034.8" y="1043.2" font-size="13.8" text-anchor="middle" fill="#111" xml:space="preserve">0</text>
<path d="M1106.4 1021.9v3.1" stroke="#111" stroke-width="1.1"/>
<text x="1106.4" y="1043.2" font-size="13.8" text-anchor="middle" fill="#111" xml:space="preserve">0.25</text>
<path d="M1177.6 1021.9v3.1" stroke="#111" stroke-width="1.1"/>
<text x="1177.6" y="1043.2" font-size="13.8" text-anchor="middle" fill="#111" xml:space="preserve">0.50</text>
<path d="M914.5 791.6h-3.1" stroke="#111" stroke-width="1.1"/>
<text x="905.0" y="797.2" font-size="13.8" text-anchor="end" fill="#111" xml:space="preserve">0.50</text>
<path d="M914.5 850.9h-3.1" stroke="#111" stroke-width="1.1"/>
<text x="905.0" y="856.5" font-size="13.8" text-anchor="end" fill="#111" xml:space="preserve">0.25</text>
<path d="M914.5 910.1h-3.1" stroke="#111" stroke-width="1.1"/>
<text x="905.0" y="915.7" font-size="13.8" text-anchor="end" fill="#111" xml:space="preserve">0</text>
<path d="M914.5 969.4h-3.1" stroke="#111" stroke-width="1.1"/>
<text x="905.0" y="975.0" font-size="13.8" text-anchor="end" fill="#111" xml:space="preserve">−0.25</text>
<circle cx="927.0" cy="801.4" r="3.20" fill="none" stroke="#de2b30" stroke-width="1.1"/>
<circle cx="928.9" cy="800.8" r="3.20" fill="none" stroke="#de2b30" stroke-width="1.1"/>
<circle cx="930.1" cy="800.5" r="3.20" fill="none" stroke="#de2b30" stroke-width="1.1"/>
<circle cx="926.4" cy="805.7" r="3.20" fill="none" stroke="#de2b30" stroke-width="1.1"/>
<circle cx="930.1" cy="808.2" r="3.20" fill="none" stroke="#de2b30" stroke-width="1.1"/>
<circle cx="942.1" cy="811.9" r="3.20" fill="none" stroke="#de2b30" stroke-width="1.1"/>
<circle cx="950.7" cy="837.3" r="3.20" fill="none" stroke="#de2b30" stroke-width="1.1"/>
<rect x="1062.7" y="894.0" width="5.8" height="5.8" fill="none" stroke="#de2b30" stroke-width="1.1"/>
<path d="M1081.8 897.7L1085.7 901.5L1081.8 905.4L1078.0 901.5Z" fill="none" stroke="#de2b30" stroke-width="1.1"/>
<rect x="1022.4" y="902.6" width="5.8" height="5.8" fill="none" stroke="#de2b30" stroke-width="1.1"/>
<rect x="1002.5" y="913.4" width="5.8" height="5.8" fill="none" stroke="#de2b30" stroke-width="1.1"/>
<rect x="1100.4" y="905.7" width="5.8" height="5.8" fill="none" stroke="#de2b30" stroke-width="1.1"/>
<path d="M1113.7 898.0L1117.6 901.8L1113.7 905.7L1109.9 901.8Z" fill="none" stroke="#de2b30" stroke-width="1.1"/>
<path d="M1114.4 899.5L1118.2 903.4L1114.4 907.2L1110.5 903.4Z" fill="none" stroke="#de2b30" stroke-width="1.1"/>
<path d="M1064.0 923.8L1067.8 927.6L1064.0 931.5L1060.2 927.6Z" fill="none" stroke="#de2b30" stroke-width="1.1"/>
<path d="M1126.0 924.4L1129.9 928.2L1126.0 932.1L1122.2 928.2Z" fill="none" stroke="#de2b30" stroke-width="1.1"/>
<path d="M1075.7 937.9L1079.5 941.8L1075.7 945.6L1071.8 941.8Z" fill="none" stroke="#de2b30" stroke-width="1.1"/>
<rect x="934.3" y="994.8" width="5.8" height="5.8" fill="none" stroke="#de2b30" stroke-width="1.1"/>
<rect x="944.1" y="1000.3" width="5.8" height="5.8" fill="none" stroke="#de2b30" stroke-width="1.1"/>
<path d="M1164.7 886.0L1169.1 893.4L1160.4 893.4Z" fill="none" stroke="#de2b30" stroke-width="1.1" stroke-linejoin="miter"/>
<path d="M1172.1 886.0L1176.4 893.4L1167.7 893.4Z" fill="none" stroke="#de2b30" stroke-width="1.1" stroke-linejoin="miter"/>
<circle cx="928.3" cy="804.5" r="3.20" fill="none" stroke="#3c9245" stroke-width="1.1"/>
<circle cx="932.3" cy="803.6" r="3.20" fill="none" stroke="#3c9245" stroke-width="1.1"/>
<circle cx="945.5" cy="814.6" r="3.20" fill="none" stroke="#3c9245" stroke-width="1.1"/>
<circle cx="1022.2" cy="901.8" r="3.20" fill="none" stroke="#3c9245" stroke-width="1.1"/>
<path d="M1134.0 886.3L1138.4 893.7L1129.7 893.7Z" fill="none" stroke="#3c9245" stroke-width="1.1" stroke-linejoin="miter"/>
<path d="M1140.8 879.9L1145.1 887.3L1136.4 887.3Z" fill="none" stroke="#3c9245" stroke-width="1.1" stroke-linejoin="miter"/>
<path d="M1140.8 886.3L1145.1 893.7L1136.4 893.7Z" fill="none" stroke="#3c9245" stroke-width="1.1" stroke-linejoin="miter"/>
<path d="M1149.4 885.4L1153.7 892.8L1145.0 892.8Z" fill="none" stroke="#3c9245" stroke-width="1.1" stroke-linejoin="miter"/>
<path d="M1154.3 884.8L1158.6 892.2L1149.9 892.2Z" fill="none" stroke="#3c9245" stroke-width="1.1" stroke-linejoin="miter"/>
<path d="M1153.1 893.1L1157.4 900.5L1148.7 900.5Z" fill="none" stroke="#3c9245" stroke-width="1.1" stroke-linejoin="miter"/>
<path d="M1161.0 886.3L1165.4 893.7L1156.7 893.7Z" fill="none" stroke="#3c9245" stroke-width="1.1" stroke-linejoin="miter"/>
<path d="M1168.1 881.4L1172.5 888.8L1163.8 888.8Z" fill="none" stroke="#3c9245" stroke-width="1.1" stroke-linejoin="miter"/>
<path d="M986.9 935.2L990.8 939.0L986.9 942.8L983.1 939.0Z" fill="none" stroke="#3c9245" stroke-width="1.1"/>
<path d="M1102.1 941.0L1105.9 944.8L1102.1 948.7L1098.2 944.8Z" fill="none" stroke="#3c9245" stroke-width="1.1"/>
<path d="M1075.7 954.5L1079.5 958.3L1075.7 962.2L1071.8 958.3Z" fill="none" stroke="#3c9245" stroke-width="1.1"/>
<path d="M1080.6 957.0L1084.4 960.8L1080.6 964.6L1076.7 960.8Z" fill="none" stroke="#3c9245" stroke-width="1.1"/>
<path d="M1089.5 956.6L1093.3 960.5L1089.5 964.3L1085.6 960.5Z" fill="none" stroke="#3c9245" stroke-width="1.1"/>
<path d="M1040.0 973.2L1043.9 977.1L1040.0 980.9L1036.2 977.1Z" fill="none" stroke="#3c9245" stroke-width="1.1"/>
<path d="M982.9 976.9L986.8 980.8L982.9 984.6L979.1 980.8Z" fill="none" stroke="#3c9245" stroke-width="1.1"/>
<path d="M1001.0 979.7L1004.9 983.5L1001.0 987.4L997.2 983.5Z" fill="none" stroke="#3c9245" stroke-width="1.1"/>
<path d="M1010.3 984.9L1014.1 988.7L1010.3 992.6L1006.4 988.7Z" fill="none" stroke="#3c9245" stroke-width="1.1"/>
<circle cx="962.4" cy="995.2" r="3.20" fill="none" stroke="#3c9245" stroke-width="1.1"/>
<rect x="930.6" y="984.6" width="5.8" height="5.8" fill="none" stroke="#3c9245" stroke-width="1.1"/>
<rect x="933.7" y="989.5" width="5.8" height="5.8" fill="none" stroke="#3c9245" stroke-width="1.1"/>
<rect x="932.5" y="998.1" width="5.8" height="5.8" fill="none" stroke="#3c9245" stroke-width="1.1"/>
<rect x="932.8" y="1000.6" width="5.8" height="5.8" fill="none" stroke="#3c9245" stroke-width="1.1"/>
<rect x="934.0" y="1002.7" width="5.8" height="5.8" fill="none" stroke="#3c9245" stroke-width="1.1"/>
<rect x="935.2" y="1004.3" width="5.8" height="5.8" fill="none" stroke="#3c9245" stroke-width="1.1"/>
<path d="M945.5 1007.6L949.3 1011.5L945.5 1015.3L941.6 1011.5Z" fill="none" stroke="#3c9245" stroke-width="1.1"/>
<text x="1051.0" y="1069.0" font-size="16.3" text-anchor="middle" fill="#111" xml:space="preserve">PCo1:<tspan dx="11.6">42%</tspan></text>
<text x="864.5" y="892.5" font-size="16.3" text-anchor="middle" fill="#111" xml:space="preserve" transform="rotate(-90 864.5 892.5)">PCo2:<tspan dx="11.6">32%</tspan></text>
<text x="955.0" y="1093.0" font-size="15.1" text-anchor="start" fill="#111" xml:space="preserve">Fields: R<tspan font-size="8.5" dy="-5">2</tspan><tspan dy="5"> = 0.75, </tspan><tspan font-style="italic">P</tspan> = 0.001</text>
<text x="955.0" y="1114.0" font-size="15.1" text-anchor="start" fill="#111" xml:space="preserve">PCS severity: R<tspan font-size="8.5" dy="-5">2</tspan><tspan dy="5"> = 0.07, </tspan><tspan font-style="italic">P</tspan> = 0.004</text>
<path d="M73.2 136.1L74.7 134.4L76.5 132.8L78.1 132.4L79.9 131.6L81.2 131.8L83.1 131.1L84.4 130.1L86.4 129.4L87.7 128.6L88.9 127.8L90.4 126.7L91.8 126.4L93.1 125.3L92.9 123.7L92.9 121.4L92.8 119.9L92.3 117.7L92.2 116.2L94.2 114.5L95.6 112.9L97.4 112.4L99.0 111.6L100.5 110.4L100.7 108.7L101.0 106.9L101.3 104.6L103.5 103.5L104.9 102.8L107.1 102.2L108.6 100.7L109.4 99.3L110.4 98.0L111.8 96.8L113.1 95.9L114.6 94.7L116.0 95.8L117.5 96.7L118.7 97.2L120.6 98.8L122.0 99.7L123.8 101.1L125.3 103.0L125.8 105.0L126.0 106.3L126.1 107.8L126.1 109.6L128.0 111.3L129.4 112.9L131.0 113.2L133.0 114.4L134.4 114.6L135.8 115.6L137.7 116.0L139.4 117.0L140.3 118.9L141.8 120.0L142.7 122.0L144.4 122.1L146.1 122.7L147.9 123.6L149.3 123.7L150.9 124.2L152.5 123.7L154.3 123.8L155.7 124.3L157.6 124.5L159.3 124.7L160.5 125.7L162.4 126.3L164.5 126.4L165.8 127.0L167.5 126.6L169.2 126.2L170.8 125.8L172.4 125.3L174.4 124.9L175.7 124.6L177.2 123.9L179.1 123.7L181.3 123.1L182.9 122.2L184.8 122.0L186.4 120.4L188.1 118.7L188.2 116.7L189.0 114.6L190.7 113.7L192.4 113.4L193.9 112.9L196.1 112.0L198.1 111.3L199.6 110.6L200.5 109.3L202.2 108.8L203.7 108.3L204.8 107.1L206.3 106.3L208.1 105.6L209.6 105.1L211.3 104.6L213.8 103.0L211.6 102.1L209.6 101.0L207.6 101.0L206.0 100.9L203.9 101.3L201.4 99.7L202.0 98.2L202.3 96.2L203.0 94.7L205.3 93.7L207.2 93.1L208.6 91.8L210.5 90.6L211.7 88.9L212.6 87.7L213.8 86.5L214.2 84.8L214.4 82.9L214.3 81.6L214.6 79.8L215.7 78.4L216.1 76.8L217.1 75.7L218.5 74.7L220.1 74.3L221.2 73.2L222.9 73.0L225.3 73.1L227.0 72.9L228.9 73.7L230.1 74.6L232.0 75.7L232.7 77.5L233.0 79.5L233.6 81.5L234.1 83.4L235.0 85.1L235.3 87.3L236.3 89.0L238.3 90.4L239.4 91.4L240.7 92.8L242.5 93.4L243.5 94.7L244.7 96.2L245.7 97.2L246.5 98.3L247.7 99.7L249.4 99.4L251.6 99.5L253.5 99.7L255.3 99.0L257.1 99.2L258.7 99.0L260.1 98.4L259.5 100.0L258.1 101.6L257.6 103.0L256.3 104.1L255.6 105.5L254.4 107.0L253.5 108.0L252.7 109.9L251.8 112.1L250.0 113.6L248.5 114.6L248.8 116.4L249.0 117.7L249.3 119.5L248.5 121.1L247.4 122.5L246.9 123.7L245.5 124.4L243.8 124.4L241.9 125.3L240.7 126.8L239.4 127.8L237.0 127.2L235.3 127.0L233.7 128.4L232.5 129.7L231.1 131.1L230.0 131.6L228.1 132.5L227.0 133.6L225.4 134.1L224.6 135.5L222.9 136.1L220.9 136.9L219.6 137.7L217.9 135.2L216.1 135.9L214.6 136.9L213.1 137.8L211.9 138.4L210.5 139.4L209.0 140.5L208.0 141.9L209.8 142.7L212.1 143.5L213.9 143.4L215.1 143.3L217.1 143.5L218.7 144.1L220.6 144.5L222.0 145.2L220.6 146.5L218.7 147.6L217.3 148.4L216.0 149.4L214.6 150.1L213.3 151.9L212.1 153.4L213.3 154.9L214.6 156.7L215.7 158.2L216.5 159.4L217.9 160.9L218.4 162.8L219.3 164.1L219.6 165.8L219.8 167.7L219.4 169.1L219.6 170.8L218.5 172.7L218.0 174.4L217.1 175.7L216.5 177.5L215.6 179.1L214.6 180.7L213.2 182.1L212.1 183.2L211.3 184.8L210.4 185.9L208.8 187.3L208.0 189.0L206.9 189.9L204.9 191.4L203.9 192.3L201.9 193.6L200.7 194.7L198.9 195.6L197.6 196.5L195.8 196.9L193.9 198.1L192.5 198.6L190.8 198.9L189.0 199.7L187.5 200.3L185.4 200.2L184.0 200.6L182.4 200.8L180.5 200.3L179.1 200.6L177.2 199.4L175.7 198.1L174.3 196.3L172.4 194.8L170.7 194.3L169.1 193.9L167.7 194.7L166.1 195.6L165.0 196.4L164.0 197.2L162.4 197.8L160.9 198.9L159.3 200.3L157.6 201.4L156.0 201.0L154.3 200.6L153.0 199.0L151.8 197.2L150.8 195.3L149.3 193.9L147.4 192.9L146.0 191.5L146.8 189.5L147.0 187.8L147.6 185.7L148.2 183.9L149.1 182.4L150.1 180.7L149.7 178.9L149.7 177.7L149.3 175.7L147.5 176.7L145.9 177.6L144.3 178.2L142.7 178.3L140.8 178.4L139.4 179.1L137.7 179.8L135.8 180.6L134.4 181.5L132.6 182.0L130.9 182.4L129.4 182.4L128.1 181.6L126.7 180.9L125.3 179.9L123.6 179.9L121.4 180.0L119.5 179.9L118.1 179.3L116.4 179.1L114.6 178.2L112.9 177.5L111.1 177.3L109.6 176.6L108.1 176.1L106.5 174.7L104.6 174.1L102.8 172.8L101.1 172.0L99.7 170.8L98.5 170.2L96.6 169.4L95.2 168.3L93.9 167.5L92.4 166.1L90.3 165.5L88.9 164.2L89.2 162.0L89.8 160.0L89.0 158.5L87.8 156.6L87.3 155.1L85.3 154.2L83.2 153.5L81.5 152.6L80.4 151.1L78.8 149.6L77.4 148.5L76.4 146.7L75.4 144.9L74.9 142.7L74.8 140.7L74.4 139.3L73.8 137.9Z" fill="#ededed" stroke="#6c6c6c" stroke-width="0.8" stroke-linejoin="round"/>
<path d="M93.1 152.6L108.0 149.3L122.0 147.6L126.1 139.4L136.1 137.7L146.0 132.8L147.6 126.1" fill="none" stroke="#9a9a9a" stroke-width="0.55" stroke-dasharray="2.2 1.3"/>
<path d="M122.0 149.3L123.7 159.2L134.4 160.9L146.0 159.2L157.6 157.6L160.9 152.6L155.9 146.0L146.0 141.0L132.8 138.5" fill="none" stroke="#9a9a9a" stroke-width="0.55" stroke-dasharray="2.2 1.3"/>
<path d="M146.0 159.2L149.3 167.5L150.1 175.7" fill="none" stroke="#9a9a9a" stroke-width="0.55" stroke-dasharray="2.2 1.3"/>
<path d="M157.6 157.6L165.8 160.9L174.1 159.2L179.1 165.8L182.4 174.1L181.5 182.4L175.7 190.6L172.4 194.8" fill="none" stroke="#9a9a9a" stroke-width="0.55" stroke-dasharray="2.2 1.3"/>
<path d="M160.9 152.6L167.5 147.6L165.8 139.4L174.1 136.1L180.7 139.4L185.7 134.4L192.3 129.4L197.2 126.1L202.2 124.5" fill="none" stroke="#9a9a9a" stroke-width="0.55" stroke-dasharray="2.2 1.3"/>
<path d="M174.1 159.2L182.4 155.9L189.0 159.2L195.6 155.9L202.2 154.3" fill="none" stroke="#9a9a9a" stroke-width="0.55" stroke-dasharray="2.2 1.3"/>
<path d="M182.4 174.1L190.6 172.4L197.2 175.7L203.9 174.1L210.5 175.7L215.4 179.1" fill="none" stroke="#9a9a9a" stroke-width="0.55" stroke-dasharray="2.2 1.3"/>
<path d="M181.5 182.4L189.0 185.7L197.2 185.7L203.9 192.3" fill="none" stroke="#9a9a9a" stroke-width="0.55" stroke-dasharray="2.2 1.3"/>
<path d="M189.0 159.2L190.6 165.8L197.2 167.5L202.2 164.2L208.8 165.8L215.4 167.5" fill="none" stroke="#9a9a9a" stroke-width="0.55" stroke-dasharray="2.2 1.3"/>
<path d="M197.2 167.5L197.2 175.7" fill="none" stroke="#9a9a9a" stroke-width="0.55" stroke-dasharray="2.2 1.3"/>
<path d="M203.9 174.1L205.5 182.4L203.9 192.3" fill="none" stroke="#9a9a9a" stroke-width="0.55" stroke-dasharray="2.2 1.3"/>
<path d="M185.7 134.4L187.3 142.7L192.3 146.0L190.6 152.6L195.6 155.9" fill="none" stroke="#9a9a9a" stroke-width="0.55" stroke-dasharray="2.2 1.3"/>
<path d="M197.2 126.1L198.9 134.4L202.2 139.4L200.6 146.0" fill="none" stroke="#9a9a9a" stroke-width="0.55" stroke-dasharray="2.2 1.3"/>
<path d="M202.2 124.5L207.2 129.4L208.8 136.1L208.0 141.9" fill="none" stroke="#9a9a9a" stroke-width="0.55" stroke-dasharray="2.2 1.3"/>
<path d="M202.2 154.3L203.9 160.9L208.8 165.8" fill="none" stroke="#9a9a9a" stroke-width="0.55" stroke-dasharray="2.2 1.3"/>
<path d="M165.8 127.0L167.5 132.8L165.8 139.4" fill="none" stroke="#9a9a9a" stroke-width="0.55" stroke-dasharray="2.2 1.3"/>
<path d="M174.1 136.1L175.7 146.0L174.1 152.6L174.1 159.2" fill="none" stroke="#9a9a9a" stroke-width="0.55" stroke-dasharray="2.2 1.3"/>
<path d="M165.8 160.9L165.8 172.4L167.5 182.4L165.8 190.6L165.0 196.4" fill="none" stroke="#9a9a9a" stroke-width="0.55" stroke-dasharray="2.2 1.3"/>
<path d="M213.8 103.0L218.7 109.6L223.7 114.6L227.0 121.2L232.0 126.1" fill="none" stroke="#9a9a9a" stroke-width="0.55" stroke-dasharray="2.2 1.3"/>
<path d="M223.7 114.6L232.0 112.9L238.6 116.2L246.9 114.6" fill="none" stroke="#9a9a9a" stroke-width="0.55" stroke-dasharray="2.2 1.3"/>
<path d="M227.0 81.5L225.4 89.8L222.0 98.0L223.7 106.3L223.7 114.6" fill="none" stroke="#9a9a9a" stroke-width="0.55" stroke-dasharray="2.2 1.3"/>
<path d="M235.3 87.3L232.0 93.1L225.4 89.8" fill="none" stroke="#9a9a9a" stroke-width="0.55" stroke-dasharray="2.2 1.3"/>
<path d="M205.5 106.3L208.8 114.6L205.5 121.2L202.2 124.5" fill="none" stroke="#9a9a9a" stroke-width="0.55" stroke-dasharray="2.2 1.3"/>
<path d="M208.8 114.6L217.1 117.9L223.7 114.6" fill="none" stroke="#9a9a9a" stroke-width="0.55" stroke-dasharray="2.2 1.3"/>
<path d="M175.7 190.6L184.0 192.3L190.6 190.6L197.2 185.7" fill="none" stroke="#9a9a9a" stroke-width="0.55" stroke-dasharray="2.2 1.3"/>
<path d="M149.3 123.7L146.0 132.8" fill="none" stroke="#9a9a9a" stroke-width="0.55" stroke-dasharray="2.2 1.3"/>
<path d="M157.6 124.5L159.2 131.1L155.9 137.7L155.9 146.0" fill="none" stroke="#9a9a9a" stroke-width="0.55" stroke-dasharray="2.2 1.3"/>
<path d="M201.4 146.8L205.5 144.3L210.5 142.7L217.1 143.5L222.0 145.2L217.9 147.6L213.8 150.1L211.3 153.4L205.5 154.3L202.2 150.9Z" fill="#c6c6c6" stroke="#999" stroke-width="0.4"/>
<ellipse cx="183.2" cy="208.0" rx="3.6" ry="2.9" fill="#ededed" stroke="#777" stroke-width="0.6" transform="rotate(-25 183.2 208.0)"/>
<ellipse cx="217.9" cy="193.1" rx="1.8" ry="5" fill="#ededed" stroke="#888" stroke-width="0.6" transform="rotate(18 217.9 193.1)"/>
<path d="M182.4 217.1L184.0 221.2" stroke="#aaa" stroke-width="0.6" fill="none"/>
<path d="M189.8 216.3L191.5 219.6" stroke="#aaa" stroke-width="0.6" fill="none"/>
<path d="M195.6 217.9L199.7 218.4" stroke="#aaa" stroke-width="0.6" fill="none"/>
<path d="M207.2 217.1L206.3 221.2" stroke="#aaa" stroke-width="0.6" fill="none"/>
<path d="M211.3 215.4L210.5 219.6" stroke="#aaa" stroke-width="0.6" fill="none"/>
<path d="M221.2 190.6L220.4 193.9" stroke="#aaa" stroke-width="0.6" fill="none"/>
<path d="M219.6 200.6L218.7 202.2" stroke="#aaa" stroke-width="0.6" fill="none"/>
<path d="M213.8 208.8L213.0 212.1" stroke="#aaa" stroke-width="0.6" fill="none"/>
<path d="M184.8 230.3L184.0 235.3" stroke="#aaa" stroke-width="0.6" fill="none"/>
<path d="M179.1 245.2L178.7 250.2" stroke="#aaa" stroke-width="0.6" fill="none"/>
<path d="M211.3 232.0L209.6 237.8" stroke="#aaa" stroke-width="0.6" fill="none"/>
<path d="M205.5 233.6L204.7 238.6" stroke="#aaa" stroke-width="0.6" fill="none"/>
<path d="M198.1 233.6L199.7 237.8" stroke="#aaa" stroke-width="0.6" fill="none"/>
<path d="M182.4 243.5L186.5 241.1" stroke="#aaa" stroke-width="0.6" fill="none"/>
<path d="M189.0 240.2L192.3 238.6" stroke="#aaa" stroke-width="0.6" fill="none"/>
<path d="M194.8 243.5L198.9 241.1" stroke="#aaa" stroke-width="0.6" fill="none"/>
<path d="M200.6 239.4L202.2 236.1" stroke="#aaa" stroke-width="0.6" fill="none"/>
<path d="M191.5 250.2L192.3 252.6" stroke="#aaa" stroke-width="0.6" fill="none"/>
<path d="M189.0 256.8L192.3 256.4" stroke="#aaa" stroke-width="0.6" fill="none"/>
<path d="M202.2 243.5L200.6 246.0" stroke="#aaa" stroke-width="0.6" fill="none"/>
<path d="M197.2 236.9L196.4 240.2" stroke="#aaa" stroke-width="0.6" fill="none"/>
<path d="M207.7 141.1L323.5 65.5M204.2 157.4L321.6 253.8" stroke="#222" stroke-width="1.3" fill="none"/>
<path d="M336.3 223.3L337.9 221.1L339.5 218.9L340.8 216.1L342.6 214.5L343.5 212.0L345.9 210.2L347.1 208.0L349.2 205.0L350.7 202.6L352.7 201.5L354.9 200.9L357.0 199.9L357.9 197.0L359.6 194.5L361.2 193.1L363.5 190.6L365.0 189.1L367.1 187.5L368.7 186.1L370.0 185.4L372.2 183.8L374.4 182.0L377.5 181.1L379.4 179.3L381.2 178.6L383.5 177.2L385.2 176.3L387.5 174.8L389.8 173.7L392.0 171.6L393.8 170.3L395.0 168.2L396.5 166.7L393.8 165.8L390.8 166.7L388.4 168.5L385.8 169.5L383.2 170.4L381.2 171.2L377.9 171.9L374.9 173.0L373.1 173.9L370.6 174.8L368.6 175.7L367.0 178.0L365.0 181.1L362.0 181.1L362.4 178.4L362.0 176.6L363.7 174.6L365.0 172.1L365.5 170.2L366.7 168.0L367.7 165.8L367.0 163.0L366.8 161.4L366.8 158.6L365.7 156.7L365.4 154.8L364.1 152.3L362.7 149.5L361.4 146.9L361.2 144.5L360.9 141.5L361.7 139.1L363.2 136.1L365.3 134.2L366.8 131.6L368.7 130.2L371.3 128.1L373.4 126.7L376.2 126.0L378.5 124.5L379.9 123.0L381.6 120.7L383.0 119.1L384.0 116.7L385.0 114.6L386.6 112.8L388.0 110.8L388.7 107.6L390.2 105.6L391.8 103.6L392.4 101.3L393.7 99.8L394.7 97.5L396.9 95.6L399.2 93.9L401.5 93.8L404.6 93.0L405.1 89.9L406.4 86.7L408.0 84.6L409.1 83.1L412.7 82.2L413.8 85.3L414.5 87.6L416.4 86.4L417.7 84.6L419.8 83.1L421.3 81.9L423.3 79.9L425.7 78.7L427.0 76.8L429.9 75.3L431.8 74.0L434.2 72.3L436.6 71.3L438.9 70.2L441.4 69.6L444.0 69.9L447.2 69.3L449.5 68.8L452.2 68.8L455.0 67.6L458.5 67.0L460.2 65.2L461.4 63.0L463.0 60.7L465.5 59.0L467.5 57.1L469.9 55.5L472.0 53.5L473.3 52.0L474.8 50.2L476.5 48.6L479.1 50.8L480.0 54.4L483.6 55.3L484.2 57.7L484.2 59.8L486.3 62.5L484.8 65.1L483.6 67.0L483.3 69.3L482.7 71.4L483.6 69.2L485.4 67.0L486.6 65.3L488.1 63.4L489.9 62.3L491.7 60.7L493.2 58.7L494.4 56.2L498.0 57.1L501.6 58.9L504.2 59.9L507.0 60.7L509.0 58.7L510.6 56.2L512.7 55.1L515.1 53.5L518.1 54.5L520.5 55.3L520.7 55.2L522.3 57.0L524.3 59.6L525.6 60.9L526.7 63.1L527.9 65.0L528.8 67.1L530.3 69.2L532.3 71.3L530.9 72.6L530.5 75.3L529.6 76.7L527.7 77.9L526.8 80.3L525.2 81.2L524.7 83.2L524.5 84.9L523.4 87.5L522.9 89.9L521.6 92.9L521.4 94.5L521.9 97.5L522.5 99.2L524.3 101.1L527.0 102.8L528.9 104.4L530.5 106.4L532.4 106.7L533.6 107.8L535.9 109.1L538.6 109.5L540.5 110.1L543.1 110.5L545.1 110.1L547.5 110.5L548.9 110.2L551.2 110.0L553.3 109.5L555.7 107.9L557.5 107.3L559.9 105.0L561.0 104.0L562.9 101.9L563.4 99.2L564.7 96.5L566.2 95.2L569.2 93.6L571.0 92.0L573.5 90.3L575.4 89.1L577.3 87.5L578.9 86.0L580.7 85.0L581.8 83.0L582.6 81.4L583.6 79.4L580.9 78.2L583.0 77.7L586.3 76.7L588.2 76.4L590.2 74.7L591.6 74.0L593.6 73.3L595.3 72.2L597.9 71.3L600.2 69.8L603.3 69.2L605.5 69.2L608.7 68.6L610.5 70.1L613.2 72.2L615.3 74.5L617.7 75.8L619.4 77.6L622.2 79.4L624.0 81.2L625.8 82.1L628.4 82.1L630.3 81.2L633.0 83.9L634.5 85.6L636.6 87.5L638.6 88.9L641.1 89.3L643.9 88.4L645.6 88.4L647.9 88.5L650.9 89.3L653.3 88.4L656.3 87.5L658.7 85.4L660.8 83.9L664.4 83.0L664.7 84.7L666.2 86.6L668.3 87.6L670.7 88.4L673.9 89.5L676.1 90.2L678.4 90.1L680.6 89.7L683.1 89.4L685.1 90.2L688.1 90.3L690.1 89.7L686.9 92.0L684.2 93.8L685.5 95.9L686.0 97.4L685.4 99.5L685.1 101.9L682.8 103.4L681.5 104.6L680.1 106.3L679.7 109.1L681.1 110.0L683.3 111.8L682.6 113.5L682.4 116.3L679.5 117.2L677.9 118.9L676.1 120.6L675.2 122.5L671.9 123.0L669.8 122.5L669.5 119.9L668.9 118.1L667.3 116.1L666.2 114.5L664.3 114.9L662.6 116.3L660.8 116.4L658.1 115.4L656.3 116.7L654.5 118.1L651.8 118.9L650.0 120.7L647.6 121.8L645.6 123.4L644.2 124.8L642.0 127.0L639.1 127.1L637.5 126.1L635.7 127.1L633.9 128.8L631.7 129.6L629.4 131.5L627.2 133.0L624.9 133.3L623.5 134.5L621.0 135.0L619.5 136.0L616.9 137.2L615.0 137.8L613.2 136.8L611.4 135.1L609.0 136.1L606.9 137.8L606.4 140.2L605.1 141.4L607.3 143.1L608.7 144.1L611.3 143.5L613.2 142.3L613.3 144.6L614.1 146.8L612.1 147.6L610.5 149.5L608.1 148.3L606.9 147.7L604.8 148.8L603.3 149.5L603.0 151.7L601.5 154.0L602.5 157.3L602.4 159.4L603.4 161.5L603.3 163.9L600.3 164.4L597.9 165.7L595.5 166.2L593.9 167.9L591.6 168.4L589.4 169.2L586.3 170.2L584.6 172.3L582.7 173.8L580.4 175.3L579.1 176.5L577.3 178.1L574.6 179.1L573.5 181.4L571.9 183.6L570.6 185.8L569.9 187.6L569.2 189.0L567.5 190.3L564.7 191.7L562.8 193.6L561.1 194.4L559.1 194.5L556.6 195.3L554.8 197.1L553.9 199.8L553.9 202.9L553.0 205.2L551.4 207.4L551.2 209.0L549.4 210.6L547.4 212.1L545.4 213.0L544.0 215.1L542.8 216.8L540.5 218.6L538.6 219.6L536.8 221.5L535.4 222.2L533.2 224.1L530.8 224.4L528.7 225.4L527.0 225.9L524.4 226.7L522.5 227.7L516.9 239.5L515.1 242.0L513.3 244.9L511.2 246.7L509.3 247.8L507.9 249.3L505.6 249.4L502.5 250.2L501.2 252.6L499.8 254.7L497.6 257.3L496.2 260.1L494.2 261.4L491.7 262.8L490.6 260.3L489.0 258.3L487.9 255.9L487.2 254.5L486.3 252.0L484.6 250.9L482.7 249.3L479.9 249.1L477.3 248.4L474.7 249.6L472.9 251.1L470.8 253.6L468.4 255.6L465.6 256.6L463.0 258.3L460.5 256.7L458.5 255.6L456.0 254.6L454.0 252.9L451.9 254.6L450.4 255.6L448.9 257.2L446.8 259.6L445.8 257.2L445.0 254.7L442.8 252.4L441.4 250.2L440.9 247.8L439.7 245.7L438.7 244.0L437.0 241.6L435.1 238.6L432.6 236.3L430.6 235.0L427.1 234.6L424.3 234.1L421.5 233.4L419.5 233.8L417.2 233.2L414.4 234.0L411.8 235.0L410.1 236.8L408.2 239.5L407.6 241.6L407.1 244.7L406.4 246.6L404.2 249.2L402.8 251.7L399.7 250.8L396.5 250.6L394.0 251.2L392.4 250.5L389.9 251.4L387.5 251.1L385.0 251.1L382.6 250.8L380.9 250.8L378.5 250.6L376.1 250.1L373.0 250.7L370.4 250.2L367.8 248.9L365.0 247.5L364.1 245.3L363.2 242.2L361.5 239.0L359.6 236.8L357.7 234.4L355.2 232.3L353.3 229.3L351.6 226.9L349.3 225.8L347.1 225.1L343.6 225.2L340.8 225.1L338.2 224.4L336.3 223.3Z" fill="#e6e4f2" stroke="none"/>
<path d="M383.9 120.0L392.9 120.9L402.8 114.6L410.9 115.5L413.6 122.7L412.7 133.4L414.5 142.4L418.1 148.7L409.1 155.0L402.8 162.2L400.1 169.4L401.9 176.6L398.3 182.0L392.9 183.8L397.4 192.7L400.1 201.7L401.9 212.5L399.2 221.5L397.4 228.7L401.9 233.2L409.1 235.0" fill="none" stroke="#fcfcff" stroke-width="1.25" stroke-linejoin="round"/>
<path d="M418.1 148.7L425.2 140.6L432.4 131.6L436.0 122.7L437.8 111.9L439.6 101.1L441.4 90.3L448.6 86.7L454.0 81.3L458.5 74.1L462.1 67.0" fill="none" stroke="#fcfcff" stroke-width="1.25" stroke-linejoin="round"/>
<path d="M454.0 84.9L455.8 95.7L457.6 106.5L454.0 113.7L457.6 119.1L464.8 117.3L466.6 108.3L468.4 102.0L477.3 100.2L484.5 99.3L487.2 106.5L489.0 115.5L495.3 117.3L500.7 119.1" fill="none" stroke="#fcfcff" stroke-width="1.25" stroke-linejoin="round"/>
<path d="M491.7 61.6L497.1 68.8L498.9 75.9L489.9 83.1L490.8 93.9L497.1 99.3L499.8 108.3L498.9 115.5" fill="none" stroke="#fcfcff" stroke-width="1.25" stroke-linejoin="round"/>
<path d="M464.8 117.3L463.9 124.5L470.2 128.1L469.3 137.0L463.0 142.4L454.9 146.0L446.8 151.4L437.8 155.0L427.0 155.9L416.3 158.6L414.5 164.0L409.1 169.4" fill="none" stroke="#fcfcff" stroke-width="1.25" stroke-linejoin="round"/>
<path d="M472.0 115.5L479.1 117.3L480.9 122.7L475.6 131.6L469.3 137.0" fill="none" stroke="#fcfcff" stroke-width="1.25" stroke-linejoin="round"/>
<path d="M454.9 146.0L457.6 155.0L459.4 165.8L468.4 169.4L476.5 169.4L480.9 160.4L479.1 149.6L473.8 142.4L469.3 137.0" fill="none" stroke="#fcfcff" stroke-width="1.25" stroke-linejoin="round"/>
<path d="M500.7 119.1L509.7 117.3L513.3 108.3L518.7 102.9L523.2 101.1" fill="none" stroke="#fcfcff" stroke-width="1.25" stroke-linejoin="round"/>
<path d="M500.7 119.1L495.3 129.8L491.7 140.6L494.4 153.2L500.7 162.2L507.9 167.6L507.0 174.8L498.9 173.9L488.1 173.9L482.7 176.6L476.5 169.4" fill="none" stroke="#fcfcff" stroke-width="1.25" stroke-linejoin="round"/>
<path d="M482.7 176.6L473.8 183.8L470.2 189.1L463.9 192.7L463.0 201.7L455.8 212.5L463.0 219.7L468.4 228.7L470.2 237.7L473.8 246.6" fill="none" stroke="#fcfcff" stroke-width="1.25" stroke-linejoin="round"/>
<path d="M400.1 178.4L409.1 182.0L418.1 178.4L421.6 175.7L423.4 183.8L427.0 188.2L434.2 185.6L439.6 183.8L448.6 185.6L457.6 187.3L463.9 192.7" fill="none" stroke="#fcfcff" stroke-width="1.25" stroke-linejoin="round"/>
<path d="M428.8 219.7L434.2 217.9L441.4 217.9L448.6 212.5L454.0 210.7L455.8 212.5" fill="none" stroke="#fcfcff" stroke-width="1.25" stroke-linejoin="round"/>
<path d="M428.8 219.7L432.4 226.9L439.6 234.1L445.0 243.1L448.6 250.2" fill="none" stroke="#fcfcff" stroke-width="1.25" stroke-linejoin="round"/>
<path d="M500.0 127.0L507.2 121.6L510.8 114.5L513.5 107.3L519.8 101.9L523.4 100.1" fill="none" stroke="#fcfcff" stroke-width="1.25" stroke-linejoin="round"/>
<path d="M552.1 110.9L553.9 117.2L561.1 116.3L571.9 116.3L580.9 111.8L589.8 109.1L595.2 112.7L597.0 123.4L597.9 132.4L600.6 137.8L605.1 141.4" fill="none" stroke="#fcfcff" stroke-width="1.25" stroke-linejoin="round"/>
<path d="M552.1 110.5L551.2 119.8L553.0 127.0L550.3 134.2L553.9 141.4" fill="none" stroke="#fcfcff" stroke-width="1.25" stroke-linejoin="round"/>
<path d="M559.3 163.0L555.7 170.2L557.5 179.1L553.9 186.3L552.1 191.7L556.6 195.3" fill="none" stroke="#fcfcff" stroke-width="1.25" stroke-linejoin="round"/>
<path d="M500.0 166.6L507.2 168.4L513.5 163.0L518.0 161.2L523.4 168.4L528.8 172.0L535.9 179.1L543.1 182.7L548.5 189.9L552.1 191.7" fill="none" stroke="#fcfcff" stroke-width="1.25" stroke-linejoin="round"/>
<path d="M523.4 170.2L518.0 175.6L515.3 182.7L518.0 191.7L517.1 200.7L512.6 206.1L519.8 207.9L527.0 209.7L533.2 215.1L534.1 222.3" fill="none" stroke="#fcfcff" stroke-width="1.25" stroke-linejoin="round"/>
<path d="M624.0 114.5L629.4 109.1L638.4 107.3L647.3 105.5L649.1 98.3L654.5 92.9L656.3 88.4" fill="none" stroke="#fcfcff" stroke-width="1.25" stroke-linejoin="round"/>
<path d="M624.0 114.5L629.4 118.1L633.0 123.4L636.6 126.1" fill="none" stroke="#fcfcff" stroke-width="1.25" stroke-linejoin="round"/>
<path d="M336.3 223.3L337.9 221.1L339.5 218.9L340.8 216.1L342.6 214.5L343.5 212.0L345.9 210.2L347.1 208.0L349.2 205.0L350.7 202.6L352.7 201.5L354.9 200.9L357.0 199.9L357.9 197.0L359.6 194.5L361.2 193.1L363.5 190.6L365.0 189.1L367.1 187.5L368.7 186.1L370.0 185.4L372.2 183.8L374.4 182.0L377.5 181.1L379.4 179.3L381.2 178.6L383.5 177.2L385.2 176.3L387.5 174.8L389.8 173.7L392.0 171.6L393.8 170.3L395.0 168.2L396.5 166.7L393.8 165.8L390.8 166.7L388.4 168.5L385.8 169.5L383.2 170.4L381.2 171.2L377.9 171.9L374.9 173.0L373.1 173.9L370.6 174.8L368.6 175.7L367.0 178.0L365.0 181.1L362.0 181.1L362.4 178.4L362.0 176.6L363.7 174.6L365.0 172.1L365.5 170.2L366.7 168.0L367.7 165.8L367.0 163.0L366.8 161.4L366.8 158.6L365.7 156.7L365.4 154.8L364.1 152.3L362.7 149.5L361.4 146.9L361.2 144.5L360.9 141.5L361.7 139.1L363.2 136.1L365.3 134.2L366.8 131.6L368.7 130.2L371.3 128.1L373.4 126.7L376.2 126.0L378.5 124.5L379.9 123.0L381.6 120.7L383.0 119.1L384.0 116.7L385.0 114.6L386.6 112.8L388.0 110.8L388.7 107.6L390.2 105.6L391.8 103.6L392.4 101.3L393.7 99.8L394.7 97.5L396.9 95.6L399.2 93.9L401.5 93.8L404.6 93.0L405.1 89.9L406.4 86.7L408.0 84.6L409.1 83.1L412.7 82.2L413.8 85.3L414.5 87.6L416.4 86.4L417.7 84.6L419.8 83.1L421.3 81.9L423.3 79.9L425.7 78.7L427.0 76.8L429.9 75.3L431.8 74.0L434.2 72.3L436.6 71.3L438.9 70.2L441.4 69.6L444.0 69.9L447.2 69.3L449.5 68.8L452.2 68.8L455.0 67.6L458.5 67.0L460.2 65.2L461.4 63.0L463.0 60.7L465.5 59.0L467.5 57.1L469.9 55.5L472.0 53.5L473.3 52.0L474.8 50.2L476.5 48.6L479.1 50.8L480.0 54.4L483.6 55.3L484.2 57.7L484.2 59.8L486.3 62.5L484.8 65.1L483.6 67.0L483.3 69.3L482.7 71.4L483.6 69.2L485.4 67.0L486.6 65.3L488.1 63.4L489.9 62.3L491.7 60.7L493.2 58.7L494.4 56.2L498.0 57.1L501.6 58.9L504.2 59.9L507.0 60.7L509.0 58.7L510.6 56.2L512.7 55.1L515.1 53.5L518.1 54.5L520.5 55.3L520.7 55.2L522.3 57.0L524.3 59.6L525.6 60.9L526.7 63.1L527.9 65.0L528.8 67.1L530.3 69.2L532.3 71.3L530.9 72.6L530.5 75.3L529.6 76.7L527.7 77.9L526.8 80.3L525.2 81.2L524.7 83.2L524.5 84.9L523.4 87.5L522.9 89.9L521.6 92.9L521.4 94.5L521.9 97.5L522.5 99.2L524.3 101.1L527.0 102.8L528.9 104.4L530.5 106.4L532.4 106.7L533.6 107.8L535.9 109.1L538.6 109.5L540.5 110.1L543.1 110.5L545.1 110.1L547.5 110.5L548.9 110.2L551.2 110.0L553.3 109.5L555.7 107.9L557.5 107.3L559.9 105.0L561.0 104.0L562.9 101.9L563.4 99.2L564.7 96.5L566.2 95.2L569.2 93.6L571.0 92.0L573.5 90.3L575.4 89.1L577.3 87.5L578.9 86.0L580.7 85.0L581.8 83.0L582.6 81.4L583.6 79.4L580.9 78.2L583.0 77.7L586.3 76.7L588.2 76.4L590.2 74.7L591.6 74.0L593.6 73.3L595.3 72.2L597.9 71.3L600.2 69.8L603.3 69.2L605.5 69.2L608.7 68.6L610.5 70.1L613.2 72.2L615.3 74.5L617.7 75.8L619.4 77.6L622.2 79.4L624.0 81.2L625.8 82.1L628.4 82.1L630.3 81.2L633.0 83.9L634.5 85.6L636.6 87.5L638.6 88.9L641.1 89.3L643.9 88.4L645.6 88.4L647.9 88.5L650.9 89.3L653.3 88.4L656.3 87.5L658.7 85.4L660.8 83.9L664.4 83.0L664.7 84.7L666.2 86.6L668.3 87.6L670.7 88.4L673.9 89.5L676.1 90.2L678.4 90.1L680.6 89.7L683.1 89.4L685.1 90.2L688.1 90.3L690.1 89.7L686.9 92.0L684.2 93.8L685.5 95.9L686.0 97.4L685.4 99.5L685.1 101.9L682.8 103.4L681.5 104.6L680.1 106.3L679.7 109.1L681.1 110.0L683.3 111.8L682.6 113.5L682.4 116.3L679.5 117.2L677.9 118.9L676.1 120.6L675.2 122.5L671.9 123.0L669.8 122.5L669.5 119.9L668.9 118.1L667.3 116.1L666.2 114.5L664.3 114.9L662.6 116.3L660.8 116.4L658.1 115.4L656.3 116.7L654.5 118.1L651.8 118.9L650.0 120.7L647.6 121.8L645.6 123.4L644.2 124.8L642.0 127.0L639.1 127.1L637.5 126.1L635.7 127.1L633.9 128.8L631.7 129.6L629.4 131.5L627.2 133.0L624.9 133.3L623.5 134.5L621.0 135.0L619.5 136.0L616.9 137.2L615.0 137.8L613.2 136.8L611.4 135.1L609.0 136.1L606.9 137.8L606.4 140.2L605.1 141.4L607.3 143.1L608.7 144.1L611.3 143.5L613.2 142.3L613.3 144.6L614.1 146.8L612.1 147.6L610.5 149.5L608.1 148.3L606.9 147.7L604.8 148.8L603.3 149.5L603.0 151.7L601.5 154.0L602.5 157.3L602.4 159.4L603.4 161.5L603.3 163.9L600.3 164.4L597.9 165.7L595.5 166.2L593.9 167.9L591.6 168.4L589.4 169.2L586.3 170.2L584.6 172.3L582.7 173.8L580.4 175.3L579.1 176.5L577.3 178.1L574.6 179.1L573.5 181.4L571.9 183.6L570.6 185.8L569.9 187.6L569.2 189.0L567.5 190.3L564.7 191.7L562.8 193.6L561.1 194.4L559.1 194.5L556.6 195.3L554.8 197.1L553.9 199.8L553.9 202.9L553.0 205.2L551.4 207.4L551.2 209.0L549.4 210.6L547.4 212.1L545.4 213.0L544.0 215.1L542.8 216.8L540.5 218.6L538.6 219.6L536.8 221.5L535.4 222.2L533.2 224.1L530.8 224.4L528.7 225.4L527.0 225.9L524.4 226.7L522.5 227.7L516.9 239.5L515.1 242.0L513.3 244.9L511.2 246.7L509.3 247.8L507.9 249.3L505.6 249.4L502.5 250.2L501.2 252.6L499.8 254.7L497.6 257.3L496.2 260.1L494.2 261.4L491.7 262.8L490.6 260.3L489.0 258.3L487.9 255.9L487.2 254.5L486.3 252.0L484.6 250.9L482.7 249.3L479.9 249.1L477.3 248.4L474.7 249.6L472.9 251.1L470.8 253.6L468.4 255.6L465.6 256.6L463.0 258.3L460.5 256.7L458.5 255.6L456.0 254.6L454.0 252.9L451.9 254.6L450.4 255.6L448.9 257.2L446.8 259.6L445.8 257.2L445.0 254.7L442.8 252.4L441.4 250.2L440.9 247.8L439.7 245.7L438.7 244.0L437.0 241.6L435.1 238.6L432.6 236.3L430.6 235.0L427.1 234.6L424.3 234.1L421.5 233.4L419.5 233.8L417.2 233.2L414.4 234.0L411.8 235.0L410.1 236.8L408.2 239.5L407.6 241.6L407.1 244.7L406.4 246.6L404.2 249.2L402.8 251.7L399.7 250.8L396.5 250.6L394.0 251.2L392.4 250.5L389.9 251.4L387.5 251.1L385.0 251.1L382.6 250.8L380.9 250.8L378.5 250.6L376.1 250.1L373.0 250.7L370.4 250.2L367.8 248.9L365.0 247.5L364.1 245.3L363.2 242.2L361.5 239.0L359.6 236.8L357.7 234.4L355.2 232.3L353.3 229.3L351.6 226.9L349.3 225.8L347.1 225.1L343.6 225.2L340.8 225.1L338.2 224.4L336.3 223.3Z" fill="none" stroke="#111" stroke-width="1.35" stroke-linejoin="round"/>
<path d="M576.4 162.1L580.0 159.4L583.6 159.4L586.3 155.8L587.7 160.3L586.3 165.7L584.5 169.3L580.9 168.4L577.3 166.6Z" fill="#fff" stroke="#111" stroke-width="0.9" stroke-linejoin="round"/>
<circle cx="605.1" cy="42.2" r="1.1" fill="#111"/>
<circle cx="602.8" cy="49.8" r="1.1" fill="#111"/>
<circle cx="597.0" cy="62.0" r="1.1" fill="#111"/>
<circle cx="602.1" cy="63.2" r="1.1" fill="#111"/>
<circle cx="565.9" cy="155.4" r="3" fill="#000"/><circle cx="442.3" cy="217" r="3" fill="#000"/>
<text x="539" y="146.8" font-size="13" fill="#111">Jiaozhou</text><text x="414.3" y="207.1" font-size="13" fill="#111">Tengzhou</text>
<text x="368.2" y="58.7" font-size="12" text-anchor="middle" fill="#222">N</text>
<path d="M368.5 64.3L359.4 94.3L368.5 84.4Z" fill="#e6e4f2"/><path d="M368.5 64.3L359.4 94.3L368.5 84.4L377.6 94.3Z" fill="none" stroke="#111" stroke-width="1.2" stroke-linejoin="miter"/>
<rect x="610" y="240" width="47.8" height="3.6" fill="#fff" stroke="#111" stroke-width="0.9"/><rect x="610" y="240" width="24.8" height="3.6" fill="#111"/>
<text x="610.2" y="259.1" font-size="12.7" text-anchor="middle" fill="#111">0</text><text x="629" y="259.1" font-size="12.7" fill="#111">50 100 km</text>
<rect x="342.6" y="277.0" width="139.1" height="133.5" fill="#e6e4f2" stroke="#222" stroke-width="1.3"/><text x="349.2" y="292.2" font-size="12.6" fill="#222">Tengzhou</text><rect x="444.2" y="283.2" width="21.6" height="2.8" fill="#fff" stroke="#111" stroke-width="0.8"/><rect x="444.2" y="283.2" width="10.8" height="2.8" fill="#111"/><text x="441.9" y="296.9" font-size="11" text-anchor="middle" fill="#111">0</text><text x="455.5" y="296.9" font-size="11" fill="#111">2 km</text><path d="M342.6 293.6h-4" stroke="#222" stroke-width="1"/><text x="333.0" y="296.2" font-size="9.3" text-anchor="end" fill="#111">35.21</text><path d="M342.6 320.4h-4" stroke="#222" stroke-width="1"/><text x="333.0" y="323.0" font-size="9.3" text-anchor="end" fill="#111">35.19</text><path d="M342.6 350.6h-4" stroke="#222" stroke-width="1"/><text x="333.0" y="353.2" font-size="9.3" text-anchor="end" fill="#111">35.17</text><path d="M342.6 380.6h-4" stroke="#222" stroke-width="1"/><text x="333.0" y="383.2" font-size="9.3" text-anchor="end" fill="#111">35.15</text><path d="M342.6 410.2h-4" stroke="#222" stroke-width="1"/><text x="333.0" y="412.8" font-size="9.3" text-anchor="end" fill="#111">35.13</text><path d="M372.2 410.5v3.6" stroke="#222" stroke-width="1"/><text x="372.2" y="425.2" font-size="8.9" text-anchor="middle" fill="#111">117.05</text><path d="M401.8 410.5v3.6" stroke="#222" stroke-width="1"/><text x="401.8" y="425.2" font-size="8.9" text-anchor="middle" fill="#111">117.07</text><path d="M431.4 410.5v3.6" stroke="#222" stroke-width="1"/><text x="431.4" y="425.2" font-size="8.9" text-anchor="middle" fill="#111">117.09</text><path d="M461.1 410.5v3.6" stroke="#222" stroke-width="1"/><text x="461.1" y="425.2" font-size="8.9" text-anchor="middle" fill="#111">117.11</text><text x="406.5" y="443.3" font-size="12.4" text-anchor="middle" fill="#111">Longitude</text><text x="304.3" y="349.5" font-size="12.4" text-anchor="middle" fill="#111" transform="rotate(-90 304.3 349.5)">Latitude</text>
<rect x="552.3" y="277.0" width="139.4" height="133.5" fill="#e6e4f2" stroke="#222" stroke-width="1.3"/><text x="558.3" y="292.2" font-size="12.6" fill="#222">Jiaozhou</text><rect x="638.3" y="282" width="33.4" height="2.8" fill="#fff" stroke="#111" stroke-width="0.8"/><rect x="638.3" y="282" width="16.7" height="2.8" fill="#111"/><text x="638.1" y="296.9" font-size="11" text-anchor="middle" fill="#111">0</text><text x="662.2" y="296.9" font-size="11" fill="#111">2 km</text><path d="M552.3 293.6h-4" stroke="#222" stroke-width="1"/><text x="542.5" y="296.2" font-size="9.3" text-anchor="end" fill="#111">36.24</text><path d="M552.3 320.4h-4" stroke="#222" stroke-width="1"/><text x="542.5" y="323.0" font-size="9.3" text-anchor="end" fill="#111">36.23</text><path d="M552.3 350.6h-4" stroke="#222" stroke-width="1"/><text x="542.5" y="353.2" font-size="9.3" text-anchor="end" fill="#111">36.22</text><path d="M552.3 380.6h-4" stroke="#222" stroke-width="1"/><text x="542.5" y="383.2" font-size="9.3" text-anchor="end" fill="#111">36.21</text><path d="M552.3 410.2h-4" stroke="#222" stroke-width="1"/><text x="542.5" y="412.8" font-size="9.3" text-anchor="end" fill="#111">36.20</text><path d="M581.4 410.5v3.6" stroke="#222" stroke-width="1"/><text x="581.4" y="425.2" font-size="8.9" text-anchor="middle" fill="#111">119.83</text><path d="M611.3 410.5v3.6" stroke="#222" stroke-width="1"/><text x="611.3" y="425.2" font-size="8.9" text-anchor="middle" fill="#111">119.84</text><path d="M640.5 410.5v3.6" stroke="#222" stroke-width="1"/><text x="640.5" y="425.2" font-size="8.9" text-anchor="middle" fill="#111">119.85</text><path d="M671.3 410.5v3.6" stroke="#222" stroke-width="1"/><text x="671.3" y="425.2" font-size="8.9" text-anchor="middle" fill="#111">119.86</text><text x="621.7" y="443.3" font-size="12.4" text-anchor="middle" fill="#111">Longitude</text><text x="511.3" y="349.5" font-size="12.4" text-anchor="middle" fill="#111" transform="rotate(-90 511.3 349.5)">Latitude</text>
<circle cx="402" cy="335" r="4.2" fill="#000"/><circle cx="461.3" cy="395.8" r="4.2" fill="#000"/><circle cx="640.5" cy="320.4" r="4.3" fill="#000"/><circle cx="611.3" cy="350.6" r="4.3" fill="#000"/>
<text x="430.4" y="328.5" font-size="12" fill="#111">TX</text><text x="440.4" y="343.8" font-size="9.35" text-anchor="middle" fill="#222">117.0704° N,</text><text x="439.8" y="355.6" font-size="9.35" text-anchor="middle" fill="#222">35.1805° E</text>
<text x="409.9" y="380.4" font-size="12" fill="#111">TZ</text><text x="419.0" y="391.6" font-size="9.35" text-anchor="middle" fill="#222">117.1143° N,</text><text x="418.8" y="403.5" font-size="9.35" text-anchor="middle" fill="#222">35.1479° E</text>
<text x="653.5" y="324.6" font-size="12" fill="#111">JD</text><text x="655.9" y="336.9" font-size="9.35" text-anchor="middle" fill="#222">119.8541° N,</text><text x="656.7" y="348.3" font-size="9.35" text-anchor="middle" fill="#222">36.2371° E</text>
<text x="585" y="353.1" font-size="12" fill="#111">JF</text><text x="590.2" y="365.3" font-size="9.35" text-anchor="middle" fill="#222">119.8412° N,</text><text x="591.3" y="376.6" font-size="9.35" text-anchor="middle" fill="#222">36.2202° E</text>
<defs>
<linearGradient id="soilg" x1="-0.314" y1="0.111" x2="0.889" y2="-0.314">
<stop offset="0" stop-color="#734a40"/><stop offset="0.26" stop-color="#a27f72"/><stop offset="0.43" stop-color="#875a4f"/><stop offset="0.65" stop-color="#6f3f36"/><stop offset="0.83" stop-color="#7c4e44"/><stop offset="0.97" stop-color="#90695e"/>
</linearGradient>
<radialGradient id="soilt" cx="0.52" cy="0" r="0.5" gradientTransform="translate(0.52 0) scale(0.7 1) translate(-0.52 0)">
<stop offset="0" stop-color="#5a2c27" stop-opacity="0.75"/><stop offset="0.6" stop-color="#63342e" stop-opacity="0.3"/><stop offset="1" stop-color="#6a3a33" stop-opacity="0"/>
</radialGradient>
<radialGradient id="soilr" cx="0.3" cy="0.9" r="0.35" gradientTransform="translate(0 0.3) scale(1 0.66)">
<stop offset="0" stop-color="#ab8a7d" stop-opacity="0.5"/><stop offset="1" stop-color="#a07c70" stop-opacity="0"/>
</radialGradient>
</defs>
<path d="M111.5 614.1L133.4 610.3L156.1 605.3L176.2 602.8L191.3 599.5L206.5 599.0L229.1 600.2L244.3 602.8L256.9 607.8L274.5 611.6L292.1 616.6L304.7 618.6L304.7 711.6L111.5 711.6Z" fill="url(#soilg)"/><path d="M111.5 614.1L133.4 610.3L156.1 605.3L176.2 602.8L191.3 599.5L206.5 599.0L229.1 600.2L244.3 602.8L256.9 607.8L274.5 611.6L292.1 616.6L304.7 618.6L304.7 711.6L111.5 711.6Z" fill="url(#soilr)"/><path d="M111.5 614.1L133.4 610.3L156.1 605.3L176.2 602.8L191.3 599.5L206.5 599.0L229.1 600.2L244.3 602.8L256.9 607.8L274.5 611.6L292.1 616.6L304.7 618.6L304.7 711.6L111.5 711.6Z" fill="url(#soilt)"/>
<path d="M206.5 605.3C203.9 605.7 196.4 606.7 191.3 607.8C186.3 608.8 181.3 609.9 176.2 611.6C171.2 613.3 165.5 616.4 161.1 617.9C156.7 619.3 151.7 620.0 149.8 620.4" fill="none" stroke="#f1dfae" stroke-width="1.35" stroke-linecap="round"/>
<path d="M206.5 605.3C206.4 608.4 206.8 618.9 206.0 624.2C205.1 629.4 203.0 632.6 201.4 636.8C199.8 641.0 197.2 647.3 196.4 649.4" fill="none" stroke="#f1dfae" stroke-width="1.35" stroke-linecap="round"/>
<path d="M206.0 624.2C207.3 626.3 211.4 633.8 214.0 636.8C216.6 639.7 220.3 641.0 221.6 641.8" fill="none" stroke="#f1dfae" stroke-width="1.35" stroke-linecap="round"/>
<path d="M207.7 606.5C210.9 607.0 221.4 607.4 226.6 609.1C231.9 610.7 234.6 614.5 239.2 616.6C243.8 618.7 249.9 620.2 254.3 621.7C258.7 623.1 263.8 624.8 265.7 625.4" fill="none" stroke="#f1dfae" stroke-width="1.35" stroke-linecap="round"/>
<path d="M239.2 616.6C240.5 620.0 244.5 629.2 246.8 636.8C249.1 644.3 251.8 653.1 253.1 662.0C254.3 670.8 254.1 685.1 254.3 689.7" fill="none" stroke="#f1dfae" stroke-width="1.35" stroke-linecap="round"/>
<path d="M224.1 664.5C224.7 666.6 226.4 673.3 227.9 677.1C229.3 680.9 232.1 685.5 232.9 687.2" fill="none" stroke="#f1dfae" stroke-width="1.35" stroke-linecap="round"/>
<path d="M188.8 674.6C187.1 675.6 182.9 679.3 178.7 680.9C174.5 682.5 166.1 683.6 163.6 684.1" fill="none" stroke="#f1dfae" stroke-width="1.35" stroke-linecap="round"/>
<path d="M128.3 636.8C128.0 638.9 126.8 645.8 126.3 649.4C125.9 652.9 125.9 656.7 125.8 658.2" fill="none" stroke="#f1dfae" stroke-width="1.35" stroke-linecap="round"/>
<path d="M157.3 650.6L152.3 650.6" fill="none" stroke="#f1dfae" stroke-width="1.35" stroke-linecap="round"/>
<ellipse cx="139.2" cy="628.0" rx="11.6" ry="9.6" fill="#bfa03c" transform="rotate(-25 139.2 628.0)"/>
<ellipse cx="174.2" cy="645.6" rx="17.6" ry="11.6" fill="#bfa03c" transform="rotate(-8 174.2 645.6)"/>
<ellipse cx="195.6" cy="662.0" rx="15.6" ry="11.6" fill="#bfa03c" transform="rotate(-18 195.6 662.0)"/>
<ellipse cx="275.7" cy="633.0" rx="11.8" ry="8.6" fill="#bfa03c" transform="rotate(22 275.7 633.0)"/>
<ellipse cx="226.1" cy="652.4" rx="8.6" ry="13.1" fill="#bfa03c" stroke="#e5360f" stroke-width="3.1" transform="rotate(-15 226.1 652.4)"/>
<circle cx="139.4" cy="630.2" r="0.9" fill="#9f7e2a"/>
<circle cx="136.4" cy="629.6" r="0.9" fill="#9f7e2a"/>
<circle cx="144.3" cy="629.8" r="0.9" fill="#9f7e2a"/>
<circle cx="146.0" cy="624.8" r="0.9" fill="#9f7e2a"/>
<circle cx="139.6" cy="624.6" r="0.9" fill="#9f7e2a"/>
<circle cx="134.7" cy="627.1" r="0.9" fill="#9f7e2a"/>
<circle cx="140.5" cy="630.0" r="0.9" fill="#9f7e2a"/>
<circle cx="141.1" cy="634.6" r="0.9" fill="#9f7e2a"/>
<circle cx="142.9" cy="622.4" r="0.9" fill="#9f7e2a"/>
<circle cx="176.1" cy="642.0" r="0.9" fill="#9f7e2a"/>
<circle cx="170.2" cy="651.9" r="0.9" fill="#9f7e2a"/>
<circle cx="172.7" cy="637.7" r="0.9" fill="#9f7e2a"/>
<circle cx="177.2" cy="643.9" r="0.9" fill="#9f7e2a"/>
<circle cx="165.3" cy="641.3" r="0.9" fill="#9f7e2a"/>
<circle cx="168.4" cy="645.5" r="0.9" fill="#9f7e2a"/>
<circle cx="170.1" cy="646.0" r="0.9" fill="#9f7e2a"/>
<circle cx="186.0" cy="642.4" r="0.9" fill="#9f7e2a"/>
<circle cx="166.9" cy="644.2" r="0.9" fill="#9f7e2a"/>
<circle cx="203.3" cy="658.4" r="0.9" fill="#9f7e2a"/>
<circle cx="203.8" cy="656.6" r="0.9" fill="#9f7e2a"/>
<circle cx="187.9" cy="661.7" r="0.9" fill="#9f7e2a"/>
<circle cx="189.2" cy="658.7" r="0.9" fill="#9f7e2a"/>
<circle cx="199.2" cy="666.0" r="0.9" fill="#9f7e2a"/>
<circle cx="196.6" cy="660.3" r="0.9" fill="#9f7e2a"/>
<circle cx="204.8" cy="663.9" r="0.9" fill="#9f7e2a"/>
<circle cx="193.9" cy="668.1" r="0.9" fill="#9f7e2a"/>
<circle cx="188.7" cy="662.9" r="0.9" fill="#9f7e2a"/>
<circle cx="279.8" cy="632.9" r="0.9" fill="#9f7e2a"/>
<circle cx="272.3" cy="634.4" r="0.9" fill="#9f7e2a"/>
<circle cx="272.5" cy="630.6" r="0.9" fill="#9f7e2a"/>
<circle cx="270.9" cy="637.1" r="0.9" fill="#9f7e2a"/>
<circle cx="272.8" cy="637.1" r="0.9" fill="#9f7e2a"/>
<circle cx="278.1" cy="631.9" r="0.9" fill="#9f7e2a"/>
<circle cx="279.8" cy="634.1" r="0.9" fill="#9f7e2a"/>
<circle cx="276.4" cy="628.3" r="0.9" fill="#9f7e2a"/>
<circle cx="276.2" cy="636.5" r="0.9" fill="#9f7e2a"/>
<circle cx="227.6" cy="657.9" r="0.9" fill="#9f7e2a"/>
<circle cx="230.2" cy="654.4" r="0.9" fill="#9f7e2a"/>
<circle cx="230.0" cy="647.0" r="0.9" fill="#9f7e2a"/>
<circle cx="225.6" cy="643.5" r="0.9" fill="#9f7e2a"/>
<circle cx="228.8" cy="652.9" r="0.9" fill="#9f7e2a"/>
<circle cx="230.4" cy="650.7" r="0.9" fill="#9f7e2a"/>
<circle cx="222.0" cy="657.1" r="0.9" fill="#9f7e2a"/>
<circle cx="222.8" cy="646.8" r="0.9" fill="#9f7e2a"/>
<circle cx="225.5" cy="656.2" r="0.9" fill="#9f7e2a"/>
<path d="M155.2 454.5C169.0 447.2 157.5 429.4 138.0 425.0C132.2 444.2 142.0 462.9 155.2 454.5Z" fill="#549c45"/>
<path d="M142.5 455.2C137.6 438.5 120.0 445.5 113.5 464.8C130.2 476.4 148.5 471.5 142.5 455.2Z" fill="#549c45"/>
<path d="M156.1 455.7C145.8 443.9 131.6 458.7 132.2 478.4C151.8 480.0 167.3 466.7 156.1 455.7Z" fill="#549c45"/>
<path d="M176.9 459.9C189.8 456.4 183.6 439.7 168.2 432.6C159.8 447.3 164.4 464.5 176.9 459.9Z" fill="#549c45"/>
<path d="M183.6 461.2C174.3 448.6 157.0 464.0 154.8 484.7C175.6 486.7 194.1 472.8 183.6 461.2Z" fill="#549c45"/>
<path d="M198.6 473.3C210.2 472.4 207.6 457.1 195.5 448.5C186.0 459.8 187.2 475.2 198.6 473.3Z" fill="#549c45"/>
<path d="M199.9 476.2C189.9 465.7 176.8 480.6 177.8 499.2C196.4 499.4 210.8 485.8 199.9 476.2Z" fill="#549c45"/>
<path d="M162.4 458.5C167.6 458.7 167.3 452.5 162.4 448.5C157.5 452.5 157.2 458.7 162.4 458.5Z" fill="#549c45"/>
<path d="M187.8 467.5C193.0 467.2 192.1 461.4 186.9 458.1C182.3 462.3 182.6 468.2 187.8 467.5Z" fill="#549c45"/>
<path d="M251.1 469.7C260.1 464.3 250.9 451.8 237.2 449.0C234.7 462.8 242.8 475.9 251.1 469.7Z" fill="#549c45"/>
<path d="M250.6 475.7C251.6 465.3 234.3 465.1 222.7 474.4C233.4 484.7 250.7 486.1 250.6 475.7Z" fill="#549c45"/>
<path d="M253.5 476.6C261.8 485.5 272.1 474.1 271.1 459.0C256.0 458.0 244.5 468.3 253.5 476.6Z" fill="#549c45"/>
<path d="M266.5 475.1C273.8 483.4 282.5 474.3 281.4 461.2C268.4 459.2 258.7 467.4 266.5 475.1Z" fill="#549c45"/>
<path d="M276.1 475.1C279.9 484.3 293.9 477.0 299.1 464.3C286.0 460.3 271.5 466.4 276.1 475.1Z" fill="#549c45"/>
<path d="M272.5 477.5C268.7 485.9 283.1 491.0 295.5 486.5C289.5 474.8 275.4 468.7 272.5 477.5Z" fill="#549c45"/>
<path d="M251.5 499.8C259.3 490.4 245.7 480.9 230.3 483.5C231.8 499.0 244.5 509.7 251.5 499.8Z" fill="#549c45"/>
<path d="M251.7 494.7C257.0 503.0 268.6 494.1 271.1 481.1C258.0 479.0 245.6 486.9 251.7 494.7Z" fill="#549c45"/>
<path d="M252.0 519.5C262.5 524.6 267.1 512.5 260.6 500.5C247.2 503.6 241.3 515.1 252.0 519.5Z" fill="#549c45"/>
<path d="M246.3 517.0C236.5 525.2 247.7 536.1 263.3 535.4C265.3 519.9 255.3 508.0 246.3 517.0Z" fill="#549c45"/>
<path d="M266.5 522.2C276.1 528.8 283.9 515.1 280.1 500.7C265.5 503.5 256.5 516.5 266.5 522.2Z" fill="#549c45"/>
<path d="M264.4 521.9C262.6 535.1 286.0 535.9 301.9 524.6C287.8 511.0 264.6 508.5 264.4 521.9Z" fill="#549c45"/>
<path d="M195.9 525.8C207.5 524.9 204.5 507.7 192.3 497.9C183.0 510.5 184.5 527.9 195.9 525.8Z" fill="#549c45"/>
<path d="M196.3 532.0C200.9 523.3 185.6 516.8 172.0 520.6C177.8 533.5 192.6 541.1 196.3 532.0Z" fill="#549c45"/>
<path d="M195.9 532.0C200.5 540.7 213.6 532.2 217.6 519.1C204.2 516.3 190.5 523.8 195.9 532.0Z" fill="#549c45"/>
<path d="M197.7 540.3C200.9 550.9 214.3 545.5 219.8 532.7C207.6 526.0 193.7 530.1 197.7 540.3Z" fill="#549c45"/>
<path d="M198.1 541.8C199.3 532.0 185.6 531.5 176.0 540.0C184.1 549.9 197.7 551.6 198.1 541.8Z" fill="#549c45"/>
<path d="M122.0 535.4C124.4 523.5 105.3 521.4 91.4 530.9C102.0 544.0 120.8 547.6 122.0 535.4Z" fill="#549c45"/>
<path d="M137.2 540.3C147.1 535.4 138.3 521.2 124.0 517.0C120.3 531.4 127.9 546.2 137.2 540.3Z" fill="#549c45"/>
<path d="M156.4 538.5C165.0 529.1 153.2 520.2 138.3 523.3C137.9 538.5 148.6 548.6 156.4 538.5Z" fill="#549c45"/>
<path d="M135.4 540.0C127.9 531.2 116.2 543.1 115.9 558.4C131.1 558.9 143.8 548.0 135.4 540.0Z" fill="#549c45"/>
<path d="M151.7 540.0C141.3 534.9 136.2 548.5 142.5 561.3C156.1 557.1 162.5 544.1 151.7 540.0Z" fill="#549c45"/>
<path d="M140.7 541.8C145.1 541.6 144.2 535.4 139.8 531.8C136.0 536.2 136.3 542.4 140.7 541.8Z" fill="#549c45"/>
<path d="M208.0 611.6C208.3 609.1 208.0 601.9 209.4 596.5C210.8 591.0 213.6 584.9 216.3 579.0C219.1 573.1 223.8 567.1 226.0 560.9C228.3 554.8 229.1 547.2 229.7 542.1C230.3 537.1 230.2 534.9 229.4 530.5C228.7 526.1 227.3 521.5 225.4 515.7C223.4 509.9 220.1 501.4 217.7 495.8C215.3 490.1 212.9 487.5 211.1 481.6C209.3 475.6 208.0 466.4 207.0 460.1C205.9 453.8 205.3 449.0 204.8 443.9C204.3 438.8 204.3 431.9 204.2 429.5L203.2 429.5C203.2 431.9 203.0 438.9 203.3 444.0C203.6 449.2 204.0 454.0 204.7 460.4C205.5 466.8 206.4 476.3 207.9 482.4C209.4 488.6 211.8 491.5 214.0 497.2C216.1 503.0 219.1 511.5 220.8 517.1C222.5 522.8 223.5 527.3 223.9 531.3C224.4 535.3 224.3 536.8 223.7 541.4C223.1 546.0 222.1 552.9 220.1 558.8C218.1 564.8 214.1 570.9 211.7 577.0C209.3 583.2 207.0 590.0 206.0 595.7C204.9 601.5 205.6 608.8 205.5 611.4Z" fill="#8a9939"/>
<path d="M229.1 533.7C230.2 531.3 233.1 523.7 235.6 519.2C238.1 514.7 241.0 510.5 244.2 506.6C247.4 502.7 250.3 499.6 254.7 495.7C259.1 491.7 266.6 486.2 270.7 482.8C274.9 479.4 278.1 476.5 279.6 475.3L278.8 474.3C277.3 475.4 273.9 478.0 269.6 481.3C265.3 484.5 257.7 489.8 253.0 493.7C248.4 497.6 245.2 500.6 241.8 504.5C238.3 508.4 235.1 512.7 232.3 517.2C229.5 521.8 226.2 529.3 225.0 531.7Z" fill="#8a9939"/>
<path d="M215.9 578.2C215.0 575.3 213.0 565.7 210.5 560.8C207.9 555.8 205.4 551.8 200.6 548.4C195.9 545.0 188.7 542.8 182.0 540.3C175.3 537.8 166.9 536.6 160.3 533.4C153.6 530.1 147.4 525.2 142.2 521.0C137.1 516.9 132.7 512.5 129.5 508.7C126.3 504.9 124.1 499.8 123.0 498.1L122.1 498.6C123.2 500.4 125.2 505.6 128.3 509.7C131.4 513.7 135.8 518.3 140.9 522.7C146.0 527.0 152.4 532.3 159.1 535.7C165.8 539.1 174.3 540.6 180.8 543.2C187.4 545.9 194.1 548.2 198.4 551.4C202.7 554.6 204.5 557.9 206.7 562.6C208.8 567.3 210.6 576.7 211.4 579.6Z" fill="#8a9939"/>
<path d="M211.8 487.4C210.2 485.7 205.9 481.0 202.2 477.5C198.4 474.1 193.9 470.0 189.2 466.7C184.6 463.4 179.7 459.7 174.5 457.7C169.2 455.8 163.4 455.9 158.0 455.2C152.5 454.5 144.3 453.8 141.6 453.6L141.5 454.3C144.2 454.6 152.4 455.5 157.8 456.3C163.2 457.1 168.8 457.2 173.9 459.2C178.9 461.2 183.6 465.0 188.1 468.3C192.5 471.7 196.9 475.7 200.5 479.2C204.1 482.7 208.2 487.6 209.7 489.3Z" fill="#8a9939"/>
<path d="M122.6 498.3C122.0 497.4 120.1 494.5 118.9 492.9C117.7 491.2 115.9 489.1 115.3 488.3" fill="none" stroke="#8a9939" stroke-width="0.8"/>
<path d="M122.6 498.3C121.5 498.2 118.3 498.0 116.2 497.4C114.1 496.8 110.9 495.1 109.9 494.7" fill="none" stroke="#8a9939" stroke-width="0.8"/>
<path d="M122.6 498.3C123.2 497.3 125.1 493.8 126.2 492.0C127.3 490.2 128.7 488.2 129.3 487.4" fill="none" stroke="#8a9939" stroke-width="0.8"/>
<path d="M204.6 444.0C203.5 442.9 199.7 439.3 197.7 437.6C195.7 436.0 193.5 434.6 192.6 434.0" fill="none" stroke="#8a9939" stroke-width="0.8"/>
<path d="M204.6 444.0C205.4 442.8 208.0 438.6 209.5 436.7C211.0 434.9 213.0 433.4 213.7 432.7" fill="none" stroke="#8a9939" stroke-width="0.8"/>
<circle cx="203.7" cy="426.8" r="2.5" fill="#f0d9e4"/><circle cx="203.7" cy="426.8" r="1.1" fill="#d3a9be"/>
<circle cx="192.6" cy="434.0" r="2.5" fill="#f0d9e4"/><circle cx="192.6" cy="434.0" r="1.1" fill="#d3a9be"/>
<circle cx="213.7" cy="432.7" r="2.5" fill="#f0d9e4"/><circle cx="213.7" cy="432.7" r="1.1" fill="#d3a9be"/>
<circle cx="114.4" cy="488.0" r="2.5" fill="#f0d9e4"/><circle cx="114.4" cy="488.0" r="1.1" fill="#d3a9be"/>
<circle cx="109.0" cy="494.7" r="2.5" fill="#f0d9e4"/><circle cx="109.0" cy="494.7" r="1.1" fill="#d3a9be"/>
<circle cx="129.3" cy="486.9" r="2.5" fill="#f0d9e4"/><circle cx="129.3" cy="486.9" r="1.1" fill="#d3a9be"/>
<text x="337.4" y="630.3" font-size="14.8" fill="#111">Geocaulosphere soil (GS)</text><text x="380.4" y="679.9" font-size="14.8" fill="#111">Bulk soil (BS)</text>
<rect x="537.1" y="581.5" width="149.1" height="123.3" fill="#86b9e4"/>
<path d="M569.5 644.3C569.5 639.9 569.9 635.0 571.8 631.1C573.8 627.2 577.1 623.8 581.1 621.2C585.1 618.6 590.7 616.8 596.0 615.6C601.2 614.3 607.0 613.7 612.5 613.9C618.0 614.1 624.1 615.0 629.1 616.9C634.0 618.8 638.7 622.2 642.3 625.5C645.9 628.8 648.6 633.2 650.6 636.7C652.5 640.3 654.3 643.2 654.2 646.6C654.1 650.1 652.1 654.1 649.9 657.6C647.6 661.0 644.4 664.6 640.6 667.5C636.9 670.4 632.4 673.2 627.4 675.1C622.4 677.0 616.4 678.8 610.9 679.1C605.4 679.3 599.4 678.2 594.3 676.4C589.3 674.6 584.2 671.6 580.4 668.5C576.7 665.3 573.7 661.6 571.8 657.6C570.0 653.5 569.5 648.7 569.5 644.3Z" fill="#f6c3c3"/><path d="M577.1 644.3C577.2 641.1 577.1 636.6 578.8 633.4C580.4 630.3 583.6 627.4 587.1 625.5C590.5 623.6 594.9 622.7 599.3 622.2C603.7 621.6 608.8 621.6 613.5 622.2C618.2 622.7 623.3 623.7 627.4 625.5C631.5 627.2 635.2 630.2 638.0 632.8C640.7 635.3 642.6 638.4 643.9 641.0C645.3 643.7 646.7 646.0 646.3 648.6C645.8 651.2 643.6 654.0 641.3 656.6C639.0 659.2 636.1 662.0 632.4 664.2C628.7 666.4 623.5 668.6 619.1 669.8C614.7 671.0 610.3 671.3 605.9 671.1C601.5 670.9 596.5 670.2 592.7 668.5C588.8 666.8 585.2 663.5 582.8 660.9C580.3 658.2 579.1 655.4 578.1 652.6C577.2 649.8 577.0 647.5 577.1 644.3Z" fill="#b9983a"/>
<rect x="583.5" y="636.8" width="3.2" height="3.2" rx="0.8" fill="#96694c"/>
<rect x="597.0" y="630.2" width="3.2" height="3.2" rx="0.8" fill="#96694c"/>
<rect x="619.2" y="629.5" width="3.2" height="3.2" rx="0.8" fill="#96694c"/>
<rect x="631.4" y="637.8" width="3.2" height="3.2" rx="0.8" fill="#96694c"/>
<rect x="608.3" y="642.1" width="3.2" height="3.2" rx="0.8" fill="#96694c"/>
<rect x="593.7" y="648.0" width="3.2" height="3.2" rx="0.8" fill="#96694c"/>
<rect x="626.1" y="652.3" width="3.2" height="3.2" rx="0.8" fill="#96694c"/>
<rect x="586.1" y="657.0" width="3.2" height="3.2" rx="0.8" fill="#96694c"/>
<rect x="612.6" y="661.3" width="3.2" height="3.2" rx="0.8" fill="#96694c"/>
<path d="M235.4 646.8L331.3 626.2M263.8 674.6H372.1M520.6 627.8L571.8 633.7M480.9 674.7H560.6" stroke="#e5360f" stroke-width="2.2" fill="none"/>
</svg>
</body></html>
